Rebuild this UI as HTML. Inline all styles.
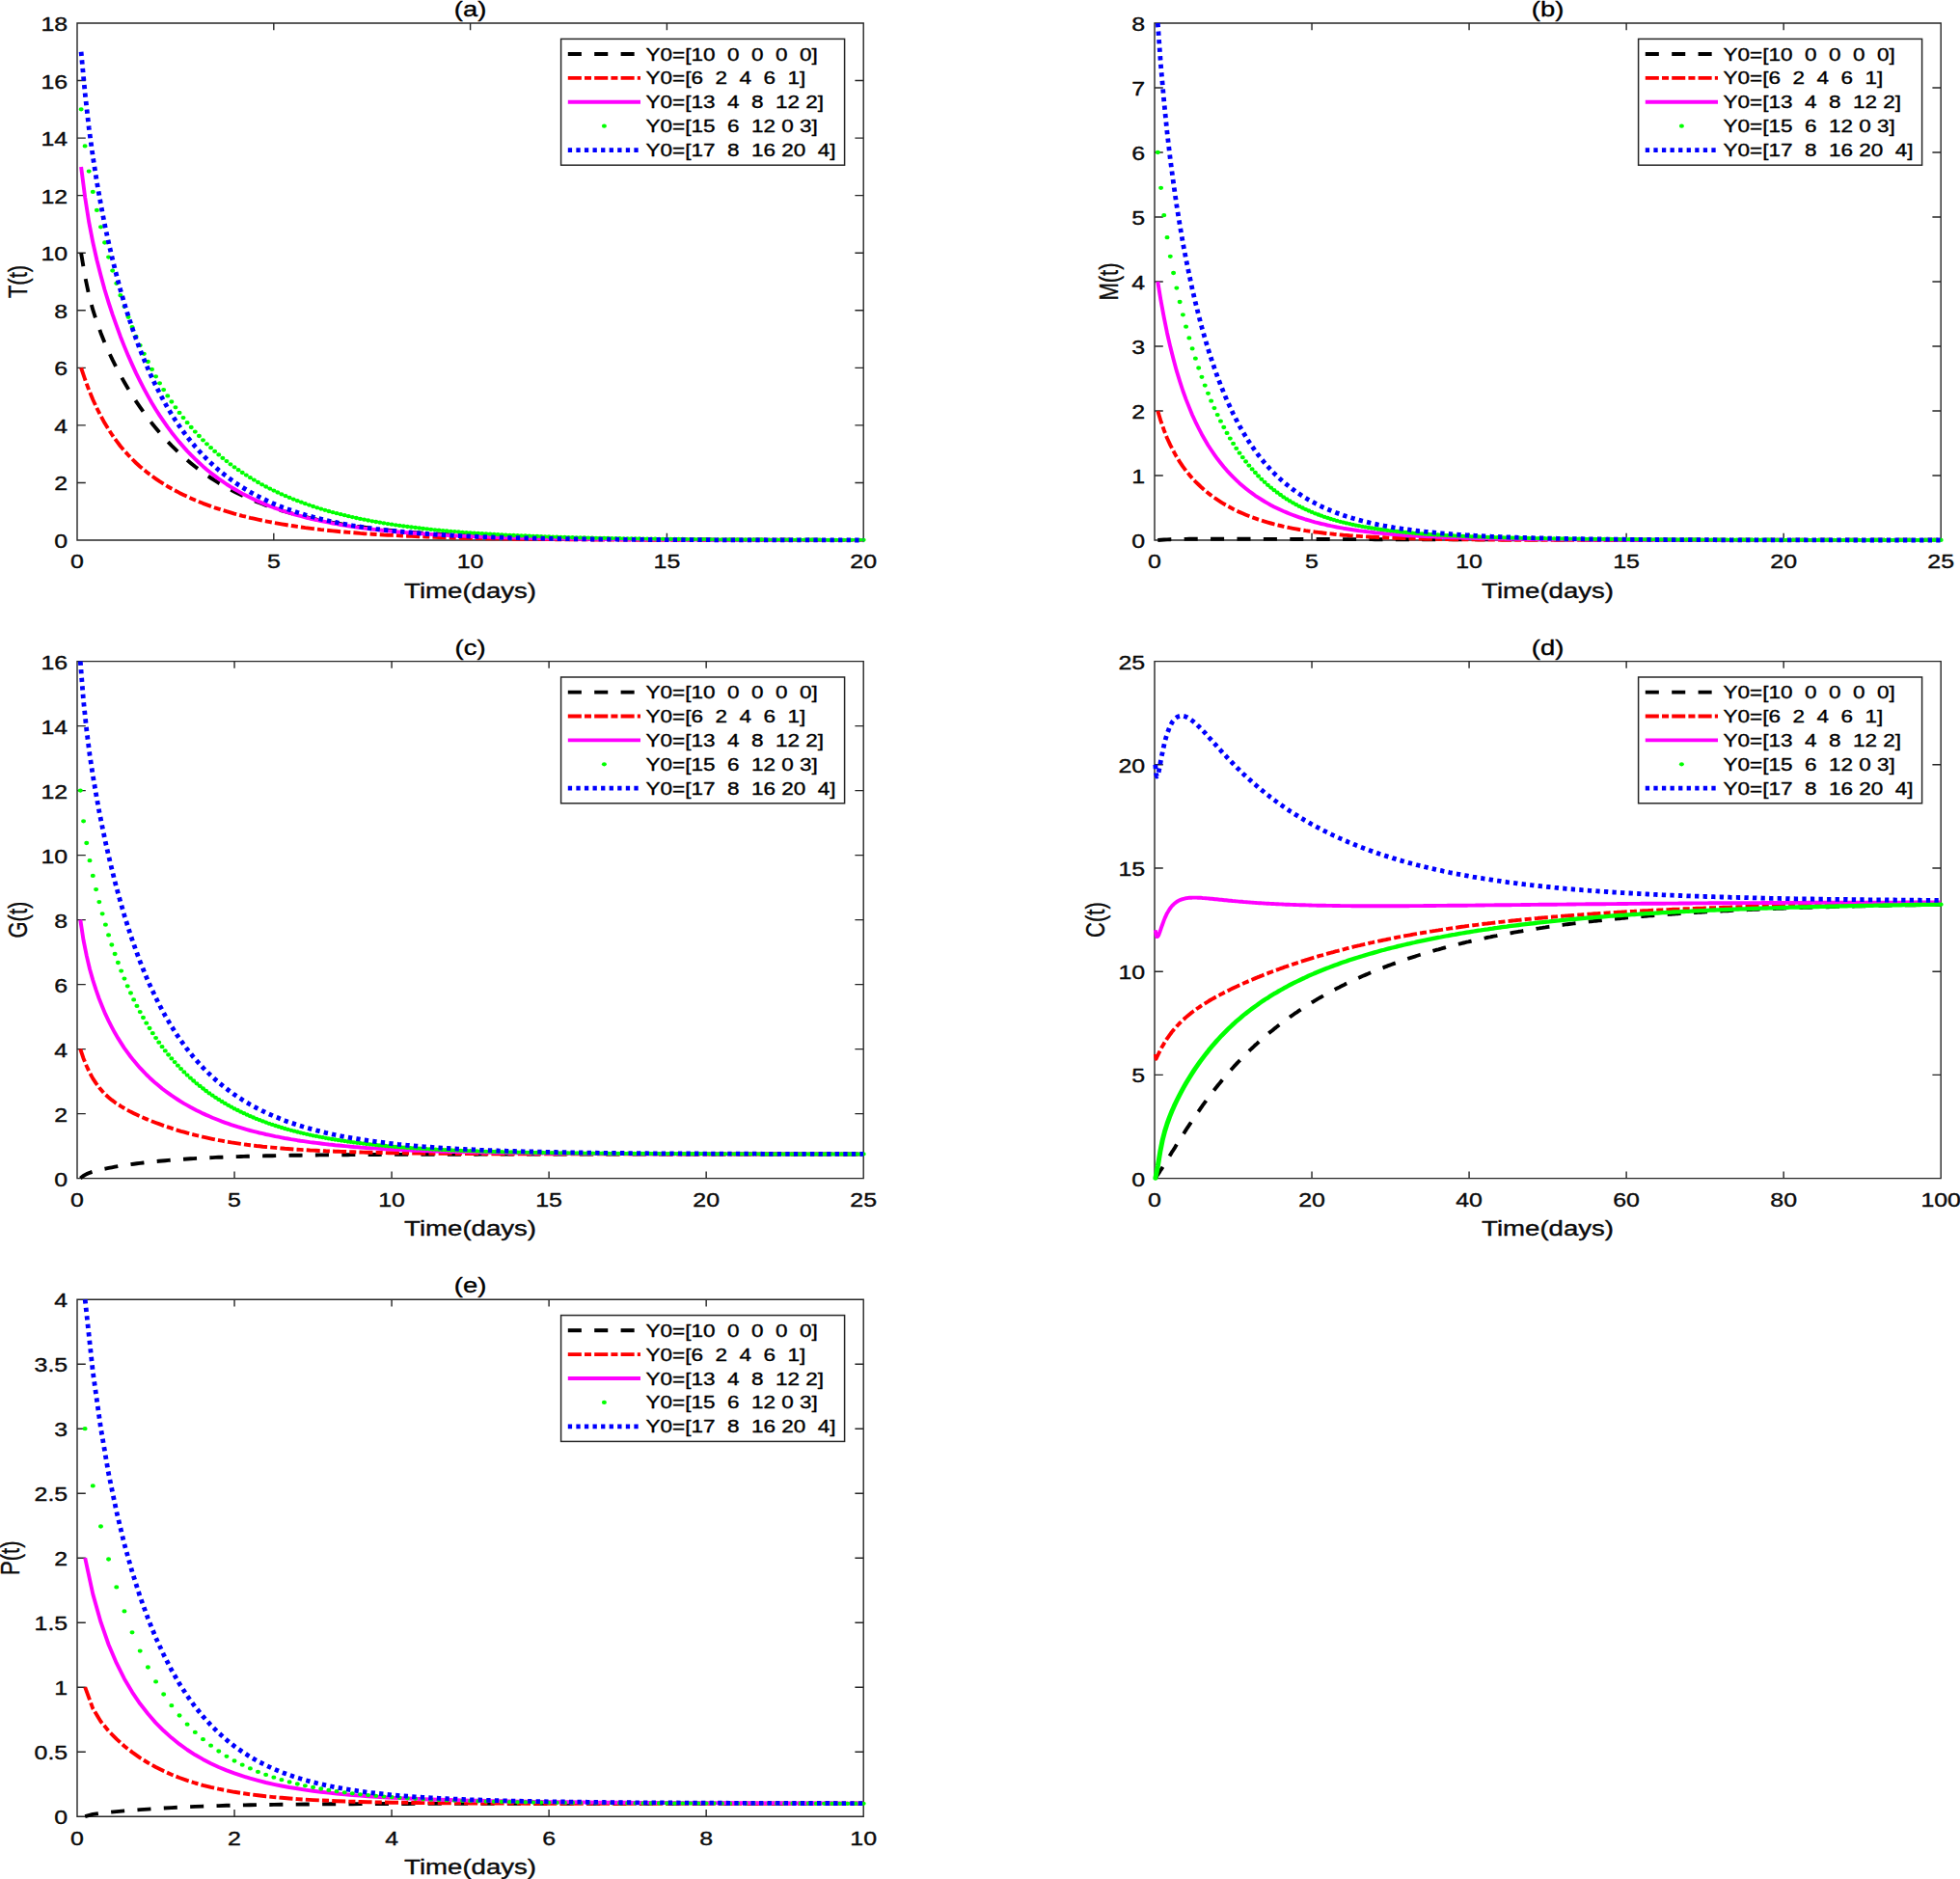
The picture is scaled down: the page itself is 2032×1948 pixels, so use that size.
<!DOCTYPE html>
<html lang="en"><head><meta charset="utf-8"><title>Figure</title>
<style>html,body{margin:0;padding:0;background:#fff}svg{display:block}text{font-family:"Liberation Sans",Arial,Helvetica,sans-serif;white-space:pre;stroke:#000;stroke-width:.35px;stroke-linejoin:round}.tk{font-size:20px;fill:#0d0d0d}.lb{font-size:22px;fill:#0d0d0d}.tt{font-size:22px;fill:#000}.lg{font-size:18px;fill:#000}.ax{stroke:#262626;stroke-width:1.4;fill:none}.cv{fill:none;stroke-linejoin:round}</style></head><body>
<svg width="2032" height="1948" viewBox="0 0 2032 1948">
<rect width="2032" height="1948" fill="#fff"/>
<g id="plot-a">
<clipPath id="clip-a"><rect x="77.00" y="21.00" width="821.20" height="542.00"/></clipPath>
<path class="ax" d="M80.00 24.00H895.20V560.00H80.00ZM80.00 560.00v-7.20M80.00 24.00v7.20M283.80 560.00v-7.20M283.80 24.00v7.20M487.60 560.00v-7.20M487.60 24.00v7.20M691.40 560.00v-7.20M691.40 24.00v7.20M895.20 560.00v-7.20M895.20 24.00v7.20M80.00 560.00h8.80M895.20 560.00h-8.80M80.00 500.44h8.80M895.20 500.44h-8.80M80.00 440.89h8.80M895.20 440.89h-8.80M80.00 381.33h8.80M895.20 381.33h-8.80M80.00 321.78h8.80M895.20 321.78h-8.80M80.00 262.22h8.80M895.20 262.22h-8.80M80.00 202.67h8.80M895.20 202.67h-8.80M80.00 143.11h8.80M895.20 143.11h-8.80M80.00 83.56h8.80M895.20 83.56h-8.80M80.00 24.00h8.80M895.20 24.00h-8.80"/>
<g clip-path="url(#clip-a)">
<polyline class="cv" points="84.1,262.2 88.2,287.0 92.2,305.9 96.3,321.2 100.4,334.0 104.5,345.2 108.5,355.3 112.6,364.6 116.7,373.2 120.8,381.3 124.8,389.0 128.9,396.2 133.0,403.2 137.1,409.8 141.1,416.1 145.2,422.1 149.3,427.9 153.4,433.4 157.4,438.7 161.5,443.7 165.6,448.6 169.7,453.2 173.7,457.6 177.8,461.9 181.9,465.9 186.0,469.8 190.1,473.5 194.1,477.1 198.2,480.5 202.3,483.8 206.4,486.9 210.4,489.9 214.5,492.8 218.6,495.5 222.7,498.1 226.7,500.7 230.8,503.1 234.9,505.4 239.0,507.6 243.0,509.7 247.1,511.8 251.2,513.7 255.3,515.6 259.3,517.4 263.4,519.1 267.5,520.7 271.6,522.3 275.6,523.8 279.7,525.3 283.8,526.7 287.9,528.0 292.0,529.3 296.0,530.5 300.1,531.7 304.2,532.8 308.3,533.9 312.3,534.9 316.4,535.9 320.5,536.9 324.6,537.8 328.6,538.7 332.7,539.5 336.8,540.3 340.9,541.1 344.9,541.8 349.0,542.5 353.1,543.2 357.2,543.9 361.2,544.5 365.3,545.1 369.4,545.7 373.5,546.3 377.5,546.8 381.6,547.3 385.7,547.8 389.8,548.3 393.9,548.7 397.9,549.2 402.0,549.6 406.1,550.0 410.2,550.4 414.2,550.8 418.3,551.1 422.4,551.4 426.5,551.8 430.5,552.1 434.6,552.4 438.7,552.7 442.8,553.0 446.8,553.2 450.9,553.5 455.0,553.7 459.1,554.0 463.1,554.2 467.2,554.4 471.3,554.6 475.4,554.8 479.4,555.0 483.5,555.2 487.6,555.4 491.7,555.6 495.8,555.8 499.8,555.9 503.9,556.1 508.0,556.2 512.1,556.4 516.1,556.5 520.2,556.6 524.3,556.8 528.4,556.9 532.4,557.0 536.5,557.1 540.6,557.2 544.7,557.3 548.7,557.4 552.8,557.5 556.9,557.6 561.0,557.7 565.0,557.8 569.1,557.9 573.2,557.9 577.3,558.0 581.3,558.1 585.4,558.2 589.5,558.2 593.6,558.3 597.7,558.4 601.7,558.4 605.8,558.5 609.9,558.5 614.0,558.6 618.0,558.6 622.1,558.7 626.2,558.7 630.3,558.8 634.3,558.8 638.4,558.9 642.5,558.9 646.6,559.0 650.6,559.0 654.7,559.0 658.8,559.1 662.9,559.1 666.9,559.1 671.0,559.2 675.1,559.2 679.2,559.2 683.2,559.3 687.3,559.3 691.4,559.3 695.5,559.3 699.6,559.4 703.6,559.4 707.7,559.4 711.8,559.4 715.9,559.4 719.9,559.5 724.0,559.5 728.1,559.5 732.2,559.5 736.2,559.5 740.3,559.6 744.4,559.6 748.5,559.6 752.5,559.6 756.6,559.6 760.7,559.6 764.8,559.6 768.8,559.7 772.9,559.7 777.0,559.7 781.1,559.7 785.1,559.7 789.2,559.7 793.3,559.7 797.4,559.7 801.5,559.7 805.5,559.8 809.6,559.8 813.7,559.8 817.8,559.8 821.8,559.8 825.9,559.8 830.0,559.8 834.1,559.8 838.1,559.8 842.2,559.8 846.3,559.8 850.4,559.8 854.4,559.8 858.5,559.8 862.6,559.9 866.7,559.9 870.7,559.9 874.8,559.9 878.9,559.9 883.0,559.9 887.0,559.9 891.1,559.9 895.2,559.9" stroke="#000000" stroke-width="3.9" stroke-dasharray="14.05 13.35"/>
<polyline class="cv" points="84.1,381.3 88.2,393.5 92.2,404.4 96.3,414.2 100.4,423.1 104.5,431.2 108.5,438.6 112.6,445.3 116.7,451.5 120.8,457.2 124.8,462.5 128.9,467.3 133.0,471.8 137.1,476.0 141.1,480.0 145.2,483.7 149.3,487.1 153.4,490.4 157.4,493.4 161.5,496.3 165.6,499.1 169.7,501.7 173.7,504.2 177.8,506.5 181.9,508.7 186.0,510.9 190.1,512.9 194.1,514.8 198.2,516.7 202.3,518.5 206.4,520.2 210.4,521.8 214.5,523.3 218.6,524.8 222.7,526.3 226.7,527.6 230.8,528.9 234.9,530.2 239.0,531.4 243.0,532.6 247.1,533.7 251.2,534.8 255.3,535.8 259.3,536.8 263.4,537.7 267.5,538.6 271.6,539.5 275.6,540.3 279.7,541.1 283.8,541.9 287.9,542.6 292.0,543.3 296.0,544.0 300.1,544.7 304.2,545.3 308.3,545.9 312.3,546.5 316.4,547.1 320.5,547.6 324.6,548.1 328.6,548.6 332.7,549.1 336.8,549.5 340.9,550.0 344.9,550.4 349.0,550.8 353.1,551.2 357.2,551.5 361.2,551.9 365.3,552.2 369.4,552.5 373.5,552.9 377.5,553.2 381.6,553.4 385.7,553.7 389.8,554.0 393.9,554.2 397.9,554.5 402.0,554.7 406.1,554.9 410.2,555.1 414.2,555.3 418.3,555.5 422.4,555.7 426.5,555.9 430.5,556.1 434.6,556.3 438.7,556.4 442.8,556.6 446.8,556.7 450.9,556.8 455.0,557.0 459.1,557.1 463.1,557.2 467.2,557.3 471.3,557.5 475.4,557.6 479.4,557.7 483.5,557.8 487.6,557.9 491.7,558.0 495.8,558.0 499.8,558.1 503.9,558.2 508.0,558.3 512.1,558.4 516.1,558.4 520.2,558.5 524.3,558.6 528.4,558.6 532.4,558.7 536.5,558.7 540.6,558.8 544.7,558.8 548.7,558.9 552.8,558.9 556.9,559.0 561.0,559.0 565.0,559.1 569.1,559.1 573.2,559.2 577.3,559.2 581.3,559.2 585.4,559.3 589.5,559.3 593.6,559.3 597.7,559.3 601.7,559.4 605.8,559.4 609.9,559.4 614.0,559.5 618.0,559.5 622.1,559.5 626.2,559.5 630.3,559.5 634.3,559.6 638.4,559.6 642.5,559.6 646.6,559.6 650.6,559.6 654.7,559.6 658.8,559.7 662.9,559.7 666.9,559.7 671.0,559.7 675.1,559.7 679.2,559.7 683.2,559.7 687.3,559.8 691.4,559.8 695.5,559.8 699.6,559.8 703.6,559.8 707.7,559.8 711.8,559.8 715.9,559.8 719.9,559.8 724.0,559.8 728.1,559.8 732.2,559.8 736.2,559.9 740.3,559.9 744.4,559.9 748.5,559.9 752.5,559.9 756.6,559.9 760.7,559.9 764.8,559.9 768.8,559.9 772.9,559.9 777.0,559.9 781.1,559.9 785.1,559.9 789.2,559.9 793.3,559.9 797.4,559.9 801.5,559.9 805.5,559.9 809.6,559.9 813.7,559.9 817.8,559.9 821.8,559.9 825.9,559.9 830.0,559.9 834.1,560.0 838.1,560.0 842.2,560.0 846.3,560.0 850.4,560.0 854.4,560.0 858.5,560.0 862.6,560.0 866.7,560.0 870.7,560.0 874.8,560.0 878.9,560.0 883.0,560.0 887.0,560.0 891.1,560.0 895.2,560.0" stroke="#ff0000" stroke-width="3.9" stroke-dasharray="14.05 3.16 7.03 3.16"/>
<polyline class="cv" points="84.1,172.9 88.2,204.8 92.2,230.2 96.3,251.3 100.4,269.5 104.5,285.6 108.5,300.2 112.6,313.6 116.7,326.1 120.8,337.7 124.8,348.7 128.9,359.1 133.0,368.9 137.1,378.1 141.1,386.9 145.2,395.2 149.3,403.1 153.4,410.6 157.4,417.7 161.5,424.5 165.6,430.9 169.7,436.9 173.7,442.7 177.8,448.2 181.9,453.4 186.0,458.4 190.1,463.1 194.1,467.6 198.2,471.8 202.3,475.9 206.4,479.7 210.4,483.4 214.5,486.9 218.6,490.2 222.7,493.4 226.7,496.4 230.8,499.2 234.9,502.0 239.0,504.6 243.0,507.0 247.1,509.4 251.2,511.7 255.3,513.8 259.3,515.8 263.4,517.8 267.5,519.6 271.6,521.4 275.6,523.1 279.7,524.7 283.8,526.3 287.9,527.7 292.0,529.1 296.0,530.5 300.1,531.7 304.2,533.0 308.3,534.1 312.3,535.2 316.4,536.3 320.5,537.3 324.6,538.3 328.6,539.2 332.7,540.1 336.8,540.9 340.9,541.7 344.9,542.5 349.0,543.2 353.1,544.0 357.2,544.6 361.2,545.3 365.3,545.9 369.4,546.5 373.5,547.0 377.5,547.6 381.6,548.1 385.7,548.6 389.8,549.1 393.9,549.5 397.9,550.0 402.0,550.4 406.1,550.8 410.2,551.2 414.2,551.5 418.3,551.9 422.4,552.2 426.5,552.5 430.5,552.8 434.6,553.1 438.7,553.4 442.8,553.7 446.8,553.9 450.9,554.2 455.0,554.4 459.1,554.6 463.1,554.9 467.2,555.1 471.3,555.3 475.4,555.5 479.4,555.6 483.5,555.8 487.6,556.0 491.7,556.2 495.8,556.3 499.8,556.5 503.9,556.6 508.0,556.7 512.1,556.9 516.1,557.0 520.2,557.1 524.3,557.2 528.4,557.3 532.4,557.4 536.5,557.5 540.6,557.6 544.7,557.7 548.7,557.8 552.8,557.9 556.9,558.0 561.0,558.1 565.0,558.2 569.1,558.2 573.2,558.3 577.3,558.4 581.3,558.4 585.4,558.5 589.5,558.6 593.6,558.6 597.7,558.7 601.7,558.7 605.8,558.8 609.9,558.8 614.0,558.9 618.0,558.9 622.1,559.0 626.2,559.0 630.3,559.0 634.3,559.1 638.4,559.1 642.5,559.1 646.6,559.2 650.6,559.2 654.7,559.2 658.8,559.3 662.9,559.3 666.9,559.3 671.0,559.4 675.1,559.4 679.2,559.4 683.2,559.4 687.3,559.5 691.4,559.5 695.5,559.5 699.6,559.5 703.6,559.5 707.7,559.6 711.8,559.6 715.9,559.6 719.9,559.6 724.0,559.6 728.1,559.6 732.2,559.6 736.2,559.7 740.3,559.7 744.4,559.7 748.5,559.7 752.5,559.7 756.6,559.7 760.7,559.7 764.8,559.7 768.8,559.8 772.9,559.8 777.0,559.8 781.1,559.8 785.1,559.8 789.2,559.8 793.3,559.8 797.4,559.8 801.5,559.8 805.5,559.8 809.6,559.8 813.7,559.8 817.8,559.8 821.8,559.9 825.9,559.9 830.0,559.9 834.1,559.9 838.1,559.9 842.2,559.9 846.3,559.9 850.4,559.9 854.4,559.9 858.5,559.9 862.6,559.9 866.7,559.9 870.7,559.9 874.8,559.9 878.9,559.9 883.0,559.9 887.0,559.9 891.1,559.9 895.2,559.9" stroke="#ff00ff" stroke-width="3.9"/>
</g>
<path class="cv" transform="scale(1.17 1)" d="M71.9 113.3h.01M75.3 151.4h.01M78.8 177.6h.01M82.3 198.9h.01M85.8 217.9h.01M89.3 235.3h.01M92.8 251.5h.01M96.2 266.6h.01M99.7 280.6h.01M103.2 293.8h.01M106.7 306.2h.01M110.2 317.8h.01M113.7 328.8h.01M117.1 339.1h.01M120.6 348.9h.01M124.1 358.1h.01M127.6 366.8h.01M131.1 375.0h.01M134.6 382.9h.01M138.1 390.3h.01M141.5 397.3h.01M145.0 404.1h.01M148.5 410.4h.01M152.0 416.5h.01M155.5 422.3h.01M159.0 427.9h.01M162.4 433.1h.01M165.9 438.2h.01M169.4 443.0h.01M172.9 447.6h.01M176.4 452.0h.01M179.9 456.3h.01M183.3 460.3h.01M186.8 464.2h.01M190.3 467.9h.01M193.8 471.4h.01M197.3 474.9h.01M200.8 478.1h.01M204.2 481.3h.01M207.7 484.3h.01M211.2 487.2h.01M214.7 490.0h.01M218.2 492.6h.01M221.7 495.2h.01M225.1 497.6h.01M228.6 500.0h.01M232.1 502.3h.01M235.6 504.5h.01M239.1 506.6h.01M242.6 508.6h.01M246.0 510.5h.01M249.5 512.4h.01M253.0 514.2h.01M256.5 515.9h.01M260.0 517.6h.01M263.5 519.2h.01M267.0 520.7h.01M270.4 522.2h.01M273.9 523.6h.01M277.4 525.0h.01M280.9 526.3h.01M284.4 527.6h.01M287.9 528.8h.01M291.3 530.0h.01M294.8 531.1h.01M298.3 532.2h.01M301.8 533.2h.01M305.3 534.2h.01M308.8 535.2h.01M312.2 536.1h.01M315.7 537.0h.01M319.2 537.9h.01M322.7 538.7h.01M326.2 539.5h.01M329.7 540.3h.01M333.1 541.0h.01M336.6 541.7h.01M340.1 542.4h.01M343.6 543.1h.01M347.1 543.7h.01M350.6 544.3h.01M354.0 544.9h.01M357.5 545.5h.01M361.0 546.0h.01M364.5 546.5h.01M368.0 547.0h.01M371.5 547.5h.01M374.9 548.0h.01M378.4 548.4h.01M381.9 548.9h.01M385.4 549.3h.01M388.9 549.7h.01M392.4 550.1h.01M395.8 550.4h.01M399.3 550.8h.01M402.8 551.1h.01M406.3 551.5h.01M409.8 551.8h.01M413.3 552.1h.01M416.8 552.4h.01M420.2 552.7h.01M423.7 553.0h.01M427.2 553.2h.01M430.7 553.5h.01M434.2 553.7h.01M437.7 554.0h.01M441.1 554.2h.01M444.6 554.4h.01M448.1 554.6h.01M451.6 554.8h.01M455.1 555.0h.01M458.6 555.2h.01M462.0 555.4h.01M465.5 555.5h.01M469.0 555.7h.01M472.5 555.9h.01M476.0 556.0h.01M479.5 556.2h.01M482.9 556.3h.01M486.4 556.5h.01M489.9 556.6h.01M493.4 556.7h.01M496.9 556.8h.01M500.4 557.0h.01M503.8 557.1h.01M507.3 557.2h.01M510.8 557.3h.01M514.3 557.4h.01M517.8 557.5h.01M521.3 557.6h.01M524.7 557.7h.01M528.2 557.8h.01M531.7 557.8h.01M535.2 557.9h.01M538.7 558.0h.01M542.2 558.1h.01M545.7 558.1h.01M549.1 558.2h.01M552.6 558.3h.01M556.1 558.3h.01M559.6 558.4h.01M563.1 558.5h.01M566.6 558.5h.01M570.0 558.6h.01M573.5 558.6h.01M577.0 558.7h.01M580.5 558.7h.01M584.0 558.8h.01M587.5 558.8h.01M590.9 558.9h.01M594.4 558.9h.01M597.9 559.0h.01M601.4 559.0h.01M604.9 559.0h.01M608.4 559.1h.01M611.8 559.1h.01M615.3 559.1h.01M618.8 559.2h.01M622.3 559.2h.01M625.8 559.2h.01M629.3 559.3h.01M632.7 559.3h.01M636.2 559.3h.01M639.7 559.3h.01M643.2 559.4h.01M646.7 559.4h.01M650.2 559.4h.01M653.6 559.4h.01M657.1 559.5h.01M660.6 559.5h.01M664.1 559.5h.01M667.6 559.5h.01M671.1 559.5h.01M674.6 559.5h.01M678.0 559.6h.01M681.5 559.6h.01M685.0 559.6h.01M688.5 559.6h.01M692.0 559.6h.01M695.5 559.6h.01M698.9 559.7h.01M702.4 559.7h.01M705.9 559.7h.01M709.4 559.7h.01M712.9 559.7h.01M716.4 559.7h.01M719.8 559.7h.01M723.3 559.7h.01M726.8 559.7h.01M730.3 559.8h.01M733.8 559.8h.01M737.3 559.8h.01M740.7 559.8h.01M744.2 559.8h.01M747.7 559.8h.01M751.2 559.8h.01M754.7 559.8h.01M758.2 559.8h.01M761.6 559.8h.01M765.1 559.8h.01" stroke="#00ff00" stroke-width="4.3" stroke-linecap="round"/>
<g clip-path="url(#clip-a)">
<polyline class="cv" points="84.1,53.8 88.2,97.1 92.2,132.6 96.3,162.5 100.4,188.6 104.5,211.7 108.5,232.6 112.6,251.6 116.7,269.1 120.8,285.4 124.8,300.4 128.9,314.5 133.0,327.7 137.1,340.0 141.1,351.5 145.2,362.4 149.3,372.6 153.4,382.2 157.4,391.3 161.5,399.8 165.6,407.8 169.7,415.4 173.7,422.6 177.8,429.3 181.9,435.7 186.0,441.8 190.1,447.5 194.1,452.9 198.2,458.0 202.3,462.9 206.4,467.5 210.4,471.9 214.5,476.0 218.6,480.0 222.7,483.7 226.7,487.3 230.8,490.6 234.9,493.8 239.0,496.9 243.0,499.8 247.1,502.6 251.2,505.2 255.3,507.7 259.3,510.1 263.4,512.3 267.5,514.5 271.6,516.6 275.6,518.5 279.7,520.4 283.8,522.2 287.9,523.9 292.0,525.5 296.0,527.0 300.1,528.5 304.2,529.9 308.3,531.3 312.3,532.5 316.4,533.8 320.5,534.9 324.6,536.0 328.6,537.1 332.7,538.1 336.8,539.1 340.9,540.0 344.9,540.9 349.0,541.7 353.1,542.6 357.2,543.3 361.2,544.1 365.3,544.8 369.4,545.4 373.5,546.1 377.5,546.7 381.6,547.3 385.7,547.8 389.8,548.4 393.9,548.9 397.9,549.4 402.0,549.8 406.1,550.3 410.2,550.7 414.2,551.1 418.3,551.5 422.4,551.9 426.5,552.2 430.5,552.6 434.6,552.9 438.7,553.2 442.8,553.5 446.8,553.8 450.9,554.1 455.0,554.3 459.1,554.6 463.1,554.8 467.2,555.0 471.3,555.3 475.4,555.5 479.4,555.7 483.5,555.9 487.6,556.0 491.7,556.2 495.8,556.4 499.8,556.5 503.9,556.7 508.0,556.8 512.1,557.0 516.1,557.1 520.2,557.2 524.3,557.3 528.4,557.5 532.4,557.6 536.5,557.7 540.6,557.8 544.7,557.9 548.7,558.0 552.8,558.1 556.9,558.1 561.0,558.2 565.0,558.3 569.1,558.4 573.2,558.4 577.3,558.5 581.3,558.6 585.4,558.6 589.5,558.7 593.6,558.8 597.7,558.8 601.7,558.9 605.8,558.9 609.9,559.0 614.0,559.0 618.0,559.1 622.1,559.1 626.2,559.1 630.3,559.2 634.3,559.2 638.4,559.2 642.5,559.3 646.6,559.3 650.6,559.3 654.7,559.4 658.8,559.4 662.9,559.4 666.9,559.4 671.0,559.5 675.1,559.5 679.2,559.5 683.2,559.5 687.3,559.6 691.4,559.6 695.5,559.6 699.6,559.6 703.6,559.6 707.7,559.6 711.8,559.7 715.9,559.7 719.9,559.7 724.0,559.7 728.1,559.7 732.2,559.7 736.2,559.7 740.3,559.8 744.4,559.8 748.5,559.8 752.5,559.8 756.6,559.8 760.7,559.8 764.8,559.8 768.8,559.8 772.9,559.8 777.0,559.8 781.1,559.8 785.1,559.8 789.2,559.9 793.3,559.9 797.4,559.9 801.5,559.9 805.5,559.9 809.6,559.9 813.7,559.9 817.8,559.9 821.8,559.9 825.9,559.9 830.0,559.9 834.1,559.9 838.1,559.9 842.2,559.9 846.3,559.9 850.4,559.9 854.4,559.9 858.5,559.9 862.6,559.9 866.7,559.9 870.7,559.9 874.8,559.9 878.9,559.9 883.0,559.9 887.0,560.0 891.1,560.0 895.2,560.0" stroke="#0000ff" stroke-width="4.8" stroke-dasharray="4.3 4.27"/>
</g>
<text class="tk" text-anchor="middle" x="80.00" y="588.90" textLength="13.85" lengthAdjust="spacingAndGlyphs">0</text>
<text class="tk" text-anchor="middle" x="283.80" y="588.90" textLength="13.85" lengthAdjust="spacingAndGlyphs">5</text>
<text class="tk" text-anchor="middle" x="487.60" y="588.90" textLength="27.70" lengthAdjust="spacingAndGlyphs">10</text>
<text class="tk" text-anchor="middle" x="691.40" y="588.90" textLength="27.70" lengthAdjust="spacingAndGlyphs">15</text>
<text class="tk" text-anchor="middle" x="895.20" y="588.90" textLength="27.70" lengthAdjust="spacingAndGlyphs">20</text>
<text class="tk" text-anchor="end" x="70.20" y="568.00" textLength="13.85" lengthAdjust="spacingAndGlyphs">0</text>
<text class="tk" text-anchor="end" x="70.20" y="508.44" textLength="13.85" lengthAdjust="spacingAndGlyphs">2</text>
<text class="tk" text-anchor="end" x="70.20" y="448.89" textLength="13.85" lengthAdjust="spacingAndGlyphs">4</text>
<text class="tk" text-anchor="end" x="70.20" y="389.33" textLength="13.85" lengthAdjust="spacingAndGlyphs">6</text>
<text class="tk" text-anchor="end" x="70.20" y="329.78" textLength="13.85" lengthAdjust="spacingAndGlyphs">8</text>
<text class="tk" text-anchor="end" x="70.20" y="270.22" textLength="27.70" lengthAdjust="spacingAndGlyphs">10</text>
<text class="tk" text-anchor="end" x="70.20" y="210.67" textLength="27.70" lengthAdjust="spacingAndGlyphs">12</text>
<text class="tk" text-anchor="end" x="70.20" y="151.11" textLength="27.70" lengthAdjust="spacingAndGlyphs">14</text>
<text class="tk" text-anchor="end" x="70.20" y="91.56" textLength="27.70" lengthAdjust="spacingAndGlyphs">16</text>
<text class="tk" text-anchor="end" x="70.20" y="32.00" textLength="27.70" lengthAdjust="spacingAndGlyphs">18</text>
<text class="lb" text-anchor="middle" x="487.60" y="619.50" textLength="136.96" lengthAdjust="spacingAndGlyphs">Time(days)</text>
<text class="tt" text-anchor="middle" x="487.60" y="16.90" textLength="33.48" lengthAdjust="spacingAndGlyphs">(a)</text>
<text class="lb" style="font-size:27.39px" text-anchor="middle" transform="translate(27.80 292.00) rotate(-90)" textLength="34.20" lengthAdjust="spacingAndGlyphs">T(t)</text>
<rect x="581.60" y="40.40" width="294.00" height="130.80" fill="#fff" stroke="#262626" stroke-width="1.5"/>
<path d="M588.80 56.00H664.00" stroke="#000000" stroke-width="3.9" stroke-dasharray="14.05 13.35"/>
<text class="lg" text-anchor="start" x="669.60" y="62.50" textLength="178.25" lengthAdjust="spacingAndGlyphs">Y0=[10  0  0  0  0]</text>
<path d="M588.80 80.90H664.00" stroke="#ff0000" stroke-width="3.9" stroke-dasharray="14.05 3.16 7.03 3.16"/>
<text class="lg" text-anchor="start" x="669.60" y="87.40" textLength="165.74" lengthAdjust="spacingAndGlyphs">Y0=[6  2  4  6  1]</text>
<path d="M588.80 105.80H664.00" stroke="#ff00ff" stroke-width="3.9"/>
<text class="lg" text-anchor="start" x="669.60" y="112.30" textLength="184.52" lengthAdjust="spacingAndGlyphs">Y0=[13  4  8  12 2]</text>
<ellipse cx="626.40" cy="130.70" rx="2.5" ry="2.1" fill="#00ff00"/>
<text class="lg" text-anchor="start" x="669.60" y="137.20" textLength="178.26" lengthAdjust="spacingAndGlyphs">Y0=[15  6  12 0 3]</text>
<path d="M588.80 155.60H664.00" stroke="#0000ff" stroke-width="4.8" stroke-dasharray="4.3 4.27"/>
<text class="lg" text-anchor="start" x="669.60" y="162.10" textLength="197.03" lengthAdjust="spacingAndGlyphs">Y0=[17  8  16 20  4]</text>
</g>
<g id="plot-b">
<clipPath id="clip-b"><rect x="1194.00" y="21.00" width="821.20" height="542.00"/></clipPath>
<path class="ax" d="M1197.00 24.00H2012.20V560.00H1197.00ZM1197.00 560.00v-7.20M1197.00 24.00v7.20M1360.04 560.00v-7.20M1360.04 24.00v7.20M1523.08 560.00v-7.20M1523.08 24.00v7.20M1686.12 560.00v-7.20M1686.12 24.00v7.20M1849.16 560.00v-7.20M1849.16 24.00v7.20M2012.20 560.00v-7.20M2012.20 24.00v7.20M1197.00 560.00h8.80M2012.20 560.00h-8.80M1197.00 493.00h8.80M2012.20 493.00h-8.80M1197.00 426.00h8.80M2012.20 426.00h-8.80M1197.00 359.00h8.80M2012.20 359.00h-8.80M1197.00 292.00h8.80M2012.20 292.00h-8.80M1197.00 225.00h8.80M2012.20 225.00h-8.80M1197.00 158.00h8.80M2012.20 158.00h-8.80M1197.00 91.00h8.80M2012.20 91.00h-8.80M1197.00 24.00h8.80M2012.20 24.00h-8.80"/>
<g clip-path="url(#clip-b)">
<polyline class="cv" points="1200.3,560.0 1203.5,559.7 1206.8,559.5 1210.0,559.4 1213.3,559.2 1216.6,559.1 1219.8,559.0 1223.1,558.9 1226.3,558.9 1229.6,558.9 1232.9,558.8 1236.1,558.8 1239.4,558.8 1242.7,558.8 1245.9,558.8 1249.2,558.8 1252.4,558.8 1255.7,558.8 1259.0,558.8 1262.2,558.8 1265.5,558.8 1268.7,558.8 1272.0,558.8 1275.3,558.8 1278.5,558.8 1281.8,558.8 1285.0,558.8 1288.3,558.8 1291.6,558.8 1294.8,558.8 1298.1,558.8 1301.3,558.9 1304.6,558.9 1307.9,558.9 1311.1,558.9 1314.4,558.9 1317.6,558.9 1320.9,558.9 1324.2,558.9 1327.4,558.9 1330.7,558.9 1334.0,558.9 1337.2,558.9 1340.5,559.0 1343.7,559.0 1347.0,559.0 1350.3,559.0 1353.5,559.0 1356.8,559.0 1360.0,559.0 1363.3,559.0 1366.6,559.0 1369.8,559.0 1373.1,559.0 1376.3,559.0 1379.6,559.1 1382.9,559.1 1386.1,559.1 1389.4,559.1 1392.6,559.1 1395.9,559.1 1399.2,559.1 1402.4,559.1 1405.7,559.1 1409.0,559.1 1412.2,559.1 1415.5,559.1 1418.7,559.1 1422.0,559.1 1425.3,559.2 1428.5,559.2 1431.8,559.2 1435.0,559.2 1438.3,559.2 1441.6,559.2 1444.8,559.2 1448.1,559.2 1451.3,559.2 1454.6,559.2 1457.9,559.2 1461.1,559.2 1464.4,559.2 1467.6,559.2 1470.9,559.2 1474.2,559.2 1477.4,559.3 1480.7,559.3 1484.0,559.3 1487.2,559.3 1490.5,559.3 1493.7,559.3 1497.0,559.3 1500.3,559.3 1503.5,559.3 1506.8,559.3 1510.0,559.3 1513.3,559.3 1516.6,559.3 1519.8,559.3 1523.1,559.3 1526.3,559.3 1529.6,559.3 1532.9,559.3 1536.1,559.4 1539.4,559.4 1542.6,559.4 1545.9,559.4 1549.2,559.4 1552.4,559.4 1555.7,559.4 1558.9,559.4 1562.2,559.4 1565.5,559.4 1568.7,559.4 1572.0,559.4 1575.3,559.4 1578.5,559.4 1581.8,559.4 1585.0,559.4 1588.3,559.4 1591.6,559.4 1594.8,559.4 1598.1,559.4 1601.3,559.4 1604.6,559.5 1607.9,559.5 1611.1,559.5 1614.4,559.5 1617.6,559.5 1620.9,559.5 1624.2,559.5 1627.4,559.5 1630.7,559.5 1633.9,559.5 1637.2,559.5 1640.5,559.5 1643.7,559.5 1647.0,559.5 1650.3,559.5 1653.5,559.5 1656.8,559.5 1660.0,559.5 1663.3,559.5 1666.6,559.5 1669.8,559.5 1673.1,559.5 1676.3,559.5 1679.6,559.5 1682.9,559.5 1686.1,559.6 1689.4,559.6 1692.6,559.6 1695.9,559.6 1699.2,559.6 1702.4,559.6 1705.7,559.6 1708.9,559.6 1712.2,559.6 1715.5,559.6 1718.7,559.6 1722.0,559.6 1725.2,559.6 1728.5,559.6 1731.8,559.6 1735.0,559.6 1738.3,559.6 1741.6,559.6 1744.8,559.6 1748.1,559.6 1751.3,559.6 1754.6,559.6 1757.9,559.6 1761.1,559.6 1764.4,559.6 1767.6,559.6 1770.9,559.6 1774.2,559.6 1777.4,559.6 1780.7,559.6 1783.9,559.6 1787.2,559.7 1790.5,559.7 1793.7,559.7 1797.0,559.7 1800.2,559.7 1803.5,559.7 1806.8,559.7 1810.0,559.7 1813.3,559.7 1816.6,559.7 1819.8,559.7 1823.1,559.7 1826.3,559.7 1829.6,559.7 1832.9,559.7 1836.1,559.7 1839.4,559.7 1842.6,559.7 1845.9,559.7 1849.2,559.7 1852.4,559.7 1855.7,559.7 1858.9,559.7 1862.2,559.7 1865.5,559.7 1868.7,559.7 1872.0,559.7 1875.2,559.7 1878.5,559.7 1881.8,559.7 1885.0,559.7 1888.3,559.7 1891.6,559.7 1894.8,559.7 1898.1,559.7 1901.3,559.7 1904.6,559.7 1907.9,559.7 1911.1,559.7 1914.4,559.7 1917.6,559.7 1920.9,559.7 1924.2,559.8 1927.4,559.8 1930.7,559.8 1933.9,559.8 1937.2,559.8 1940.5,559.8 1943.7,559.8 1947.0,559.8 1950.2,559.8 1953.5,559.8 1956.8,559.8 1960.0,559.8 1963.3,559.8 1966.5,559.8 1969.8,559.8 1973.1,559.8 1976.3,559.8 1979.6,559.8 1982.9,559.8 1986.1,559.8 1989.4,559.8 1992.6,559.8 1995.9,559.8 1999.2,559.8 2002.4,559.8 2005.7,559.8 2008.9,559.8 2012.2,559.8" stroke="#000000" stroke-width="3.9" stroke-dasharray="14.05 13.35"/>
<polyline class="cv" points="1200.3,426.0 1203.5,436.7 1206.8,446.0 1210.0,454.2 1213.3,461.4 1216.6,467.8 1219.8,473.6 1223.1,478.9 1226.3,483.7 1229.6,488.1 1232.9,492.1 1236.1,495.8 1239.4,499.3 1242.7,502.5 1245.9,505.6 1249.2,508.4 1252.4,511.1 1255.7,513.6 1259.0,516.0 1262.2,518.2 1265.5,520.3 1268.7,522.3 1272.0,524.2 1275.3,526.0 1278.5,527.7 1281.8,529.3 1285.0,530.9 1288.3,532.3 1291.6,533.7 1294.8,535.0 1298.1,536.3 1301.3,537.4 1304.6,538.6 1307.9,539.6 1311.1,540.6 1314.4,541.6 1317.6,542.5 1320.9,543.4 1324.2,544.2 1327.4,545.0 1330.7,545.8 1334.0,546.5 1337.2,547.2 1340.5,547.8 1343.7,548.4 1347.0,549.0 1350.3,549.5 1353.5,550.1 1356.8,550.6 1360.0,551.0 1363.3,551.5 1366.6,551.9 1369.8,552.3 1373.1,552.7 1376.3,553.1 1379.6,553.4 1382.9,553.8 1386.1,554.1 1389.4,554.4 1392.6,554.7 1395.9,554.9 1399.2,555.2 1402.4,555.4 1405.7,555.7 1409.0,555.9 1412.2,556.1 1415.5,556.3 1418.7,556.5 1422.0,556.7 1425.3,556.8 1428.5,557.0 1431.8,557.2 1435.0,557.3 1438.3,557.4 1441.6,557.6 1444.8,557.7 1448.1,557.8 1451.3,557.9 1454.6,558.0 1457.9,558.1 1461.1,558.2 1464.4,558.3 1467.6,558.4 1470.9,558.5 1474.2,558.6 1477.4,558.7 1480.7,558.7 1484.0,558.8 1487.2,558.9 1490.5,558.9 1493.7,559.0 1497.0,559.0 1500.3,559.1 1503.5,559.1 1506.8,559.2 1510.0,559.2 1513.3,559.3 1516.6,559.3 1519.8,559.3 1523.1,559.4 1526.3,559.4 1529.6,559.4 1532.9,559.5 1536.1,559.5 1539.4,559.5 1542.6,559.6 1545.9,559.6 1549.2,559.6 1552.4,559.6 1555.7,559.7 1558.9,559.7 1562.2,559.7 1565.5,559.7 1568.7,559.7 1572.0,559.7 1575.3,559.8 1578.5,559.8 1581.8,559.8 1585.0,559.8 1588.3,559.8 1591.6,559.8 1594.8,559.8 1598.1,559.8 1601.3,559.9 1604.6,559.9 1607.9,559.9 1611.1,559.9 1614.4,559.9 1617.6,559.9 1620.9,559.9 1624.2,559.9 1627.4,559.9 1630.7,559.9 1633.9,559.9 1637.2,559.9 1640.5,559.9 1643.7,559.9 1647.0,559.9 1650.3,560.0 1653.5,560.0 1656.8,560.0 1660.0,560.0 1663.3,560.0 1666.6,560.0 1669.8,560.0 1673.1,560.0 1676.3,560.0 1679.6,560.0 1682.9,560.0 1686.1,560.0 1689.4,560.0 1692.6,560.0 1695.9,560.0 1699.2,560.0 1702.4,560.0 1705.7,560.0 1708.9,560.0 1712.2,560.0 1715.5,560.0 1718.7,560.0 1722.0,560.0 1725.2,560.0 1728.5,560.0 1731.8,560.0 1735.0,560.0 1738.3,560.0 1741.6,560.0 1744.8,560.0 1748.1,560.0 1751.3,560.0 1754.6,560.0 1757.9,560.0 1761.1,560.0 1764.4,560.0 1767.6,560.0 1770.9,560.0 1774.2,560.0 1777.4,560.0 1780.7,560.0 1783.9,560.0 1787.2,560.0 1790.5,560.0 1793.7,560.0 1797.0,560.0 1800.2,560.0 1803.5,560.0 1806.8,560.0 1810.0,560.0 1813.3,560.0 1816.6,560.0 1819.8,560.0 1823.1,560.0 1826.3,560.0 1829.6,560.0 1832.9,560.0 1836.1,560.0 1839.4,560.0 1842.6,560.0 1845.9,560.0 1849.2,560.0 1852.4,560.0 1855.7,560.0 1858.9,560.0 1862.2,560.0 1865.5,560.0 1868.7,560.0 1872.0,560.0 1875.2,560.0 1878.5,560.0 1881.8,560.0 1885.0,560.0 1888.3,560.0 1891.6,560.0 1894.8,560.0 1898.1,560.0 1901.3,560.0 1904.6,560.0 1907.9,560.0 1911.1,560.0 1914.4,560.0 1917.6,560.0 1920.9,560.0 1924.2,560.0 1927.4,560.0 1930.7,560.0 1933.9,560.0 1937.2,560.0 1940.5,560.0 1943.7,560.0 1947.0,560.0 1950.2,560.0 1953.5,560.0 1956.8,560.0 1960.0,560.0 1963.3,560.0 1966.5,560.0 1969.8,560.0 1973.1,560.0 1976.3,560.0 1979.6,560.0 1982.9,560.0 1986.1,560.0 1989.4,560.0 1992.6,560.0 1995.9,560.0 1999.2,560.0 2002.4,560.0 2005.7,560.0 2008.9,560.0 2012.2,560.0" stroke="#ff0000" stroke-width="3.9" stroke-dasharray="14.05 3.16 7.03 3.16"/>
<polyline class="cv" points="1200.3,292.0 1203.5,311.7 1206.8,329.4 1210.0,345.2 1213.3,359.6 1216.6,372.5 1219.8,384.4 1223.1,395.1 1226.3,405.0 1229.6,414.1 1232.9,422.4 1236.1,430.2 1239.4,437.3 1242.7,444.0 1245.9,450.2 1249.2,456.0 1252.4,461.5 1255.7,466.5 1259.0,471.3 1262.2,475.8 1265.5,480.0 1268.7,484.0 1272.0,487.8 1275.3,491.3 1278.5,494.7 1281.8,497.9 1285.0,500.9 1288.3,503.7 1291.6,506.4 1294.8,509.0 1298.1,511.4 1301.3,513.8 1304.6,515.9 1307.9,518.0 1311.1,520.0 1314.4,521.9 1317.6,523.7 1320.9,525.4 1324.2,527.0 1327.4,528.5 1330.7,530.0 1334.0,531.4 1337.2,532.7 1340.5,534.0 1343.7,535.2 1347.0,536.3 1350.3,537.4 1353.5,538.5 1356.8,539.4 1360.0,540.4 1363.3,541.3 1366.6,542.1 1369.8,543.0 1373.1,543.7 1376.3,544.5 1379.6,545.2 1382.9,545.8 1386.1,546.5 1389.4,547.1 1392.6,547.7 1395.9,548.2 1399.2,548.7 1402.4,549.2 1405.7,549.7 1409.0,550.2 1412.2,550.6 1415.5,551.0 1418.7,551.4 1422.0,551.8 1425.3,552.2 1428.5,552.5 1431.8,552.8 1435.0,553.1 1438.3,553.4 1441.6,553.7 1444.8,554.0 1448.1,554.3 1451.3,554.5 1454.6,554.7 1457.9,555.0 1461.1,555.2 1464.4,555.4 1467.6,555.6 1470.9,555.8 1474.2,555.9 1477.4,556.1 1480.7,556.3 1484.0,556.4 1487.2,556.6 1490.5,556.7 1493.7,556.9 1497.0,557.0 1500.3,557.1 1503.5,557.2 1506.8,557.3 1510.0,557.4 1513.3,557.5 1516.6,557.6 1519.8,557.7 1523.1,557.8 1526.3,557.9 1529.6,558.0 1532.9,558.1 1536.1,558.2 1539.4,558.2 1542.6,558.3 1545.9,558.4 1549.2,558.4 1552.4,558.5 1555.7,558.5 1558.9,558.6 1562.2,558.7 1565.5,558.7 1568.7,558.8 1572.0,558.8 1575.3,558.8 1578.5,558.9 1581.8,558.9 1585.0,559.0 1588.3,559.0 1591.6,559.0 1594.8,559.1 1598.1,559.1 1601.3,559.1 1604.6,559.2 1607.9,559.2 1611.1,559.2 1614.4,559.3 1617.6,559.3 1620.9,559.3 1624.2,559.3 1627.4,559.4 1630.7,559.4 1633.9,559.4 1637.2,559.4 1640.5,559.4 1643.7,559.5 1647.0,559.5 1650.3,559.5 1653.5,559.5 1656.8,559.5 1660.0,559.5 1663.3,559.6 1666.6,559.6 1669.8,559.6 1673.1,559.6 1676.3,559.6 1679.6,559.6 1682.9,559.6 1686.1,559.7 1689.4,559.7 1692.6,559.7 1695.9,559.7 1699.2,559.7 1702.4,559.7 1705.7,559.7 1708.9,559.7 1712.2,559.7 1715.5,559.7 1718.7,559.7 1722.0,559.8 1725.2,559.8 1728.5,559.8 1731.8,559.8 1735.0,559.8 1738.3,559.8 1741.6,559.8 1744.8,559.8 1748.1,559.8 1751.3,559.8 1754.6,559.8 1757.9,559.8 1761.1,559.8 1764.4,559.8 1767.6,559.8 1770.9,559.8 1774.2,559.9 1777.4,559.9 1780.7,559.9 1783.9,559.9 1787.2,559.9 1790.5,559.9 1793.7,559.9 1797.0,559.9 1800.2,559.9 1803.5,559.9 1806.8,559.9 1810.0,559.9 1813.3,559.9 1816.6,559.9 1819.8,559.9 1823.1,559.9 1826.3,559.9 1829.6,559.9 1832.9,559.9 1836.1,559.9 1839.4,559.9 1842.6,559.9 1845.9,559.9 1849.2,559.9 1852.4,559.9 1855.7,559.9 1858.9,559.9 1862.2,559.9 1865.5,559.9 1868.7,559.9 1872.0,559.9 1875.2,559.9 1878.5,559.9 1881.8,559.9 1885.0,559.9 1888.3,559.9 1891.6,559.9 1894.8,559.9 1898.1,559.9 1901.3,560.0 1904.6,560.0 1907.9,560.0 1911.1,560.0 1914.4,560.0 1917.6,560.0 1920.9,560.0 1924.2,560.0 1927.4,560.0 1930.7,560.0 1933.9,560.0 1937.2,560.0 1940.5,560.0 1943.7,560.0 1947.0,560.0 1950.2,560.0 1953.5,560.0 1956.8,560.0 1960.0,560.0 1963.3,560.0 1966.5,560.0 1969.8,560.0 1973.1,560.0 1976.3,560.0 1979.6,560.0 1982.9,560.0 1986.1,560.0 1989.4,560.0 1992.6,560.0 1995.9,560.0 1999.2,560.0 2002.4,560.0 2005.7,560.0 2008.9,560.0 2012.2,560.0" stroke="#ff00ff" stroke-width="3.9"/>
</g>
<path class="cv" transform="scale(1.17 1)" d="M1025.9 158.0h.01M1028.7 194.8h.01M1031.4 223.2h.01M1034.2 246.2h.01M1037.0 265.8h.01M1039.8 283.0h.01M1042.6 298.6h.01M1045.4 313.0h.01M1048.2 326.3h.01M1050.9 338.7h.01M1053.7 350.4h.01M1056.5 361.4h.01M1059.3 371.7h.01M1062.1 381.5h.01M1064.9 390.8h.01M1067.7 399.6h.01M1070.5 407.8h.01M1073.2 415.7h.01M1076.0 423.1h.01M1078.8 430.1h.01M1081.6 436.7h.01M1084.4 443.0h.01M1087.2 448.9h.01M1090.0 454.6h.01M1092.8 459.9h.01M1095.5 464.9h.01M1098.3 469.7h.01M1101.1 474.2h.01M1103.9 478.5h.01M1106.7 482.6h.01M1109.5 486.4h.01M1112.3 490.0h.01M1115.0 493.5h.01M1117.8 496.8h.01M1120.6 499.8h.01M1123.4 502.8h.01M1126.2 505.6h.01M1129.0 508.2h.01M1131.8 510.7h.01M1134.6 513.0h.01M1137.3 515.3h.01M1140.1 517.4h.01M1142.9 519.4h.01M1145.7 521.3h.01M1148.5 523.2h.01M1151.3 524.9h.01M1154.1 526.5h.01M1156.9 528.1h.01M1159.6 529.5h.01M1162.4 530.9h.01M1165.2 532.3h.01M1168.0 533.5h.01M1170.8 534.7h.01M1173.6 535.9h.01M1176.4 536.9h.01M1179.1 538.0h.01M1181.9 538.9h.01M1184.7 539.9h.01M1187.5 540.8h.01M1190.3 541.6h.01M1193.1 542.4h.01M1195.9 543.1h.01M1198.7 543.9h.01M1201.4 544.6h.01M1204.2 545.2h.01M1207.0 545.8h.01M1209.8 546.4h.01M1212.6 547.0h.01M1215.4 547.5h.01M1218.2 548.0h.01M1221.0 548.5h.01M1223.7 549.0h.01M1226.5 549.4h.01M1229.3 549.9h.01M1232.1 550.3h.01M1234.9 550.6h.01M1237.7 551.0h.01M1240.5 551.4h.01M1243.3 551.7h.01M1246.0 552.0h.01M1248.8 552.3h.01M1251.6 552.6h.01M1254.4 552.9h.01M1257.2 553.2h.01M1260.0 553.4h.01M1262.8 553.7h.01M1265.5 553.9h.01M1268.3 554.1h.01M1271.1 554.3h.01M1273.9 554.5h.01M1276.7 554.7h.01M1279.5 554.9h.01M1282.3 555.1h.01M1285.1 555.3h.01M1287.8 555.4h.01M1290.6 555.6h.01M1293.4 555.7h.01M1296.2 555.9h.01M1299.0 556.0h.01M1301.8 556.2h.01M1304.6 556.3h.01M1307.4 556.4h.01M1310.1 556.5h.01M1312.9 556.7h.01M1315.7 556.8h.01M1318.5 556.9h.01M1321.3 557.0h.01M1324.1 557.1h.01M1326.9 557.2h.01M1329.6 557.3h.01M1332.4 557.3h.01M1335.2 557.4h.01M1338.0 557.5h.01M1340.8 557.6h.01M1343.6 557.7h.01M1346.4 557.7h.01M1349.2 557.8h.01M1351.9 557.9h.01M1354.7 557.9h.01M1357.5 558.0h.01M1360.3 558.1h.01M1363.1 558.1h.01M1365.9 558.2h.01M1368.7 558.2h.01M1371.5 558.3h.01M1374.2 558.3h.01M1377.0 558.4h.01M1379.8 558.4h.01M1382.6 558.5h.01M1385.4 558.5h.01M1388.2 558.6h.01M1391.0 558.6h.01M1393.7 558.6h.01M1396.5 558.7h.01M1399.3 558.7h.01M1402.1 558.8h.01M1404.9 558.8h.01M1407.7 558.8h.01M1410.5 558.9h.01M1413.3 558.9h.01M1416.0 558.9h.01M1418.8 558.9h.01M1421.6 559.0h.01M1424.4 559.0h.01M1427.2 559.0h.01M1430.0 559.1h.01M1432.8 559.1h.01M1435.6 559.1h.01M1438.3 559.1h.01M1441.1 559.2h.01M1443.9 559.2h.01M1446.7 559.2h.01M1449.5 559.2h.01M1452.3 559.2h.01M1455.1 559.3h.01M1457.9 559.3h.01M1460.6 559.3h.01M1463.4 559.3h.01M1466.2 559.3h.01M1469.0 559.4h.01M1471.8 559.4h.01M1474.6 559.4h.01M1477.4 559.4h.01M1480.1 559.4h.01M1482.9 559.4h.01M1485.7 559.5h.01M1488.5 559.5h.01M1491.3 559.5h.01M1494.1 559.5h.01M1496.9 559.5h.01M1499.7 559.5h.01M1502.4 559.5h.01M1505.2 559.5h.01M1508.0 559.6h.01M1510.8 559.6h.01M1513.6 559.6h.01M1516.4 559.6h.01M1519.2 559.6h.01M1522.0 559.6h.01M1524.7 559.6h.01M1527.5 559.6h.01M1530.3 559.6h.01M1533.1 559.6h.01M1535.9 559.7h.01M1538.7 559.7h.01M1541.5 559.7h.01M1544.2 559.7h.01M1547.0 559.7h.01M1549.8 559.7h.01M1552.6 559.7h.01M1555.4 559.7h.01M1558.2 559.7h.01M1561.0 559.7h.01M1563.8 559.7h.01M1566.5 559.7h.01M1569.3 559.7h.01M1572.1 559.8h.01M1574.9 559.8h.01M1577.7 559.8h.01M1580.5 559.8h.01M1583.3 559.8h.01M1586.1 559.8h.01M1588.8 559.8h.01M1591.6 559.8h.01M1594.4 559.8h.01M1597.2 559.8h.01M1600.0 559.8h.01M1602.8 559.8h.01M1605.6 559.8h.01M1608.3 559.8h.01M1611.1 559.8h.01M1613.9 559.8h.01M1616.7 559.8h.01M1619.5 559.8h.01M1622.3 559.8h.01M1625.1 559.8h.01M1627.9 559.9h.01M1630.6 559.9h.01M1633.4 559.9h.01M1636.2 559.9h.01M1639.0 559.9h.01M1641.8 559.9h.01M1644.6 559.9h.01M1647.4 559.9h.01M1650.2 559.9h.01M1652.9 559.9h.01M1655.7 559.9h.01M1658.5 559.9h.01M1661.3 559.9h.01M1664.1 559.9h.01M1666.9 559.9h.01M1669.7 559.9h.01M1672.4 559.9h.01M1675.2 559.9h.01M1678.0 559.9h.01M1680.8 559.9h.01M1683.6 559.9h.01M1686.4 559.9h.01M1689.2 559.9h.01M1692.0 559.9h.01M1694.7 559.9h.01M1697.5 559.9h.01M1700.3 559.9h.01M1703.1 559.9h.01M1705.9 559.9h.01M1708.7 559.9h.01M1711.5 559.9h.01M1714.3 559.9h.01M1717.0 559.9h.01M1719.8 559.9h.01" stroke="#00ff00" stroke-width="4.3" stroke-linecap="round"/>
<g clip-path="url(#clip-b)">
<polyline class="cv" points="1200.3,24.0 1203.5,68.2 1206.8,105.4 1210.0,137.3 1213.3,165.3 1216.6,190.1 1219.8,212.5 1223.1,232.8 1226.3,251.5 1229.6,268.8 1232.9,284.8 1236.1,299.8 1239.4,313.8 1242.7,326.9 1245.9,339.2 1249.2,350.7 1252.4,361.6 1255.7,371.8 1259.0,381.5 1262.2,390.6 1265.5,399.2 1268.7,407.3 1272.0,414.9 1275.3,422.1 1278.5,429.0 1281.8,435.4 1285.0,441.5 1288.3,447.3 1291.6,452.7 1294.8,457.9 1298.1,462.8 1301.3,467.4 1304.6,471.8 1307.9,476.0 1311.1,479.9 1314.4,483.7 1317.6,487.2 1320.9,490.6 1324.2,493.8 1327.4,496.8 1330.7,499.7 1334.0,502.4 1337.2,505.0 1340.5,507.5 1343.7,509.9 1347.0,512.1 1350.3,514.2 1353.5,516.2 1356.8,518.2 1360.0,520.0 1363.3,521.7 1366.6,523.4 1369.8,525.0 1373.1,526.5 1376.3,527.9 1379.6,529.3 1382.9,530.6 1386.1,531.9 1389.4,533.0 1392.6,534.2 1395.9,535.3 1399.2,536.3 1402.4,537.3 1405.7,538.2 1409.0,539.1 1412.2,540.0 1415.5,540.8 1418.7,541.6 1422.0,542.4 1425.3,543.1 1428.5,543.8 1431.8,544.4 1435.0,545.1 1438.3,545.7 1441.6,546.2 1444.8,546.8 1448.1,547.3 1451.3,547.8 1454.6,548.3 1457.9,548.8 1461.1,549.2 1464.4,549.7 1467.6,550.1 1470.9,550.5 1474.2,550.8 1477.4,551.2 1480.7,551.5 1484.0,551.9 1487.2,552.2 1490.5,552.5 1493.7,552.8 1497.0,553.1 1500.3,553.3 1503.5,553.6 1506.8,553.9 1510.0,554.1 1513.3,554.3 1516.6,554.5 1519.8,554.8 1523.1,555.0 1526.3,555.1 1529.6,555.3 1532.9,555.5 1536.1,555.7 1539.4,555.9 1542.6,556.0 1545.9,556.2 1549.2,556.3 1552.4,556.5 1555.7,556.6 1558.9,556.7 1562.2,556.8 1565.5,557.0 1568.7,557.1 1572.0,557.2 1575.3,557.3 1578.5,557.4 1581.8,557.5 1585.0,557.6 1588.3,557.7 1591.6,557.8 1594.8,557.9 1598.1,557.9 1601.3,558.0 1604.6,558.1 1607.9,558.2 1611.1,558.2 1614.4,558.3 1617.6,558.4 1620.9,558.4 1624.2,558.5 1627.4,558.5 1630.7,558.6 1633.9,558.6 1637.2,558.7 1640.5,558.7 1643.7,558.8 1647.0,558.8 1650.3,558.9 1653.5,558.9 1656.8,559.0 1660.0,559.0 1663.3,559.0 1666.6,559.1 1669.8,559.1 1673.1,559.1 1676.3,559.2 1679.6,559.2 1682.9,559.2 1686.1,559.3 1689.4,559.3 1692.6,559.3 1695.9,559.3 1699.2,559.4 1702.4,559.4 1705.7,559.4 1708.9,559.4 1712.2,559.5 1715.5,559.5 1718.7,559.5 1722.0,559.5 1725.2,559.5 1728.5,559.6 1731.8,559.6 1735.0,559.6 1738.3,559.6 1741.6,559.6 1744.8,559.6 1748.1,559.6 1751.3,559.7 1754.6,559.7 1757.9,559.7 1761.1,559.7 1764.4,559.7 1767.6,559.7 1770.9,559.7 1774.2,559.7 1777.4,559.7 1780.7,559.8 1783.9,559.8 1787.2,559.8 1790.5,559.8 1793.7,559.8 1797.0,559.8 1800.2,559.8 1803.5,559.8 1806.8,559.8 1810.0,559.8 1813.3,559.8 1816.6,559.8 1819.8,559.8 1823.1,559.9 1826.3,559.9 1829.6,559.9 1832.9,559.9 1836.1,559.9 1839.4,559.9 1842.6,559.9 1845.9,559.9 1849.2,559.9 1852.4,559.9 1855.7,559.9 1858.9,559.9 1862.2,559.9 1865.5,559.9 1868.7,559.9 1872.0,559.9 1875.2,559.9 1878.5,559.9 1881.8,559.9 1885.0,559.9 1888.3,559.9 1891.6,559.9 1894.8,559.9 1898.1,559.9 1901.3,559.9 1904.6,559.9 1907.9,559.9 1911.1,559.9 1914.4,559.9 1917.6,560.0 1920.9,560.0 1924.2,560.0 1927.4,560.0 1930.7,560.0 1933.9,560.0 1937.2,560.0 1940.5,560.0 1943.7,560.0 1947.0,560.0 1950.2,560.0 1953.5,560.0 1956.8,560.0 1960.0,560.0 1963.3,560.0 1966.5,560.0 1969.8,560.0 1973.1,560.0 1976.3,560.0 1979.6,560.0 1982.9,560.0 1986.1,560.0 1989.4,560.0 1992.6,560.0 1995.9,560.0 1999.2,560.0 2002.4,560.0 2005.7,560.0 2008.9,560.0 2012.2,560.0" stroke="#0000ff" stroke-width="4.8" stroke-dasharray="4.3 4.27"/>
</g>
<text class="tk" text-anchor="middle" x="1197.00" y="588.90" textLength="13.85" lengthAdjust="spacingAndGlyphs">0</text>
<text class="tk" text-anchor="middle" x="1360.04" y="588.90" textLength="13.85" lengthAdjust="spacingAndGlyphs">5</text>
<text class="tk" text-anchor="middle" x="1523.08" y="588.90" textLength="27.70" lengthAdjust="spacingAndGlyphs">10</text>
<text class="tk" text-anchor="middle" x="1686.12" y="588.90" textLength="27.70" lengthAdjust="spacingAndGlyphs">15</text>
<text class="tk" text-anchor="middle" x="1849.16" y="588.90" textLength="27.70" lengthAdjust="spacingAndGlyphs">20</text>
<text class="tk" text-anchor="middle" x="2012.20" y="588.90" textLength="27.70" lengthAdjust="spacingAndGlyphs">25</text>
<text class="tk" text-anchor="end" x="1187.20" y="568.00" textLength="13.85" lengthAdjust="spacingAndGlyphs">0</text>
<text class="tk" text-anchor="end" x="1187.20" y="501.00" textLength="13.85" lengthAdjust="spacingAndGlyphs">1</text>
<text class="tk" text-anchor="end" x="1187.20" y="434.00" textLength="13.85" lengthAdjust="spacingAndGlyphs">2</text>
<text class="tk" text-anchor="end" x="1187.20" y="367.00" textLength="13.85" lengthAdjust="spacingAndGlyphs">3</text>
<text class="tk" text-anchor="end" x="1187.20" y="300.00" textLength="13.85" lengthAdjust="spacingAndGlyphs">4</text>
<text class="tk" text-anchor="end" x="1187.20" y="233.00" textLength="13.85" lengthAdjust="spacingAndGlyphs">5</text>
<text class="tk" text-anchor="end" x="1187.20" y="166.00" textLength="13.85" lengthAdjust="spacingAndGlyphs">6</text>
<text class="tk" text-anchor="end" x="1187.20" y="99.00" textLength="13.85" lengthAdjust="spacingAndGlyphs">7</text>
<text class="tk" text-anchor="end" x="1187.20" y="32.00" textLength="13.85" lengthAdjust="spacingAndGlyphs">8</text>
<text class="lb" text-anchor="middle" x="1604.60" y="619.50" textLength="136.96" lengthAdjust="spacingAndGlyphs">Time(days)</text>
<text class="tt" text-anchor="middle" x="1604.60" y="16.90" textLength="33.48" lengthAdjust="spacingAndGlyphs">(b)</text>
<text class="lb" style="font-size:27.39px" text-anchor="middle" transform="translate(1159.20 292.00) rotate(-90)" textLength="39.09" lengthAdjust="spacingAndGlyphs">M(t)</text>
<rect x="1698.60" y="40.40" width="294.00" height="130.80" fill="#fff" stroke="#262626" stroke-width="1.5"/>
<path d="M1705.80 56.00H1781.00" stroke="#000000" stroke-width="3.9" stroke-dasharray="14.05 13.35"/>
<text class="lg" text-anchor="start" x="1786.60" y="62.50" textLength="178.25" lengthAdjust="spacingAndGlyphs">Y0=[10  0  0  0  0]</text>
<path d="M1705.80 80.90H1781.00" stroke="#ff0000" stroke-width="3.9" stroke-dasharray="14.05 3.16 7.03 3.16"/>
<text class="lg" text-anchor="start" x="1786.60" y="87.40" textLength="165.74" lengthAdjust="spacingAndGlyphs">Y0=[6  2  4  6  1]</text>
<path d="M1705.80 105.80H1781.00" stroke="#ff00ff" stroke-width="3.9"/>
<text class="lg" text-anchor="start" x="1786.60" y="112.30" textLength="184.52" lengthAdjust="spacingAndGlyphs">Y0=[13  4  8  12 2]</text>
<ellipse cx="1743.40" cy="130.70" rx="2.5" ry="2.1" fill="#00ff00"/>
<text class="lg" text-anchor="start" x="1786.60" y="137.20" textLength="178.26" lengthAdjust="spacingAndGlyphs">Y0=[15  6  12 0 3]</text>
<path d="M1705.80 155.60H1781.00" stroke="#0000ff" stroke-width="4.8" stroke-dasharray="4.3 4.27"/>
<text class="lg" text-anchor="start" x="1786.60" y="162.10" textLength="197.03" lengthAdjust="spacingAndGlyphs">Y0=[17  8  16 20  4]</text>
</g>
<g id="plot-c">
<clipPath id="clip-c"><rect x="77.00" y="682.60" width="821.20" height="542.00"/></clipPath>
<path class="ax" d="M80.00 685.60H895.20V1221.60H80.00ZM80.00 1221.60v-7.20M80.00 685.60v7.20M243.04 1221.60v-7.20M243.04 685.60v7.20M406.08 1221.60v-7.20M406.08 685.60v7.20M569.12 1221.60v-7.20M569.12 685.60v7.20M732.16 1221.60v-7.20M732.16 685.60v7.20M895.20 1221.60v-7.20M895.20 685.60v7.20M80.00 1221.60h8.80M895.20 1221.60h-8.80M80.00 1154.60h8.80M895.20 1154.60h-8.80M80.00 1087.60h8.80M895.20 1087.60h-8.80M80.00 1020.60h8.80M895.20 1020.60h-8.80M80.00 953.60h8.80M895.20 953.60h-8.80M80.00 886.60h8.80M895.20 886.60h-8.80M80.00 819.60h8.80M895.20 819.60h-8.80M80.00 752.60h8.80M895.20 752.60h-8.80M80.00 685.60h8.80M895.20 685.60h-8.80"/>
<g clip-path="url(#clip-c)">
<polyline class="cv" points="83.3,1221.6 86.5,1219.0 89.8,1217.1 93.0,1215.8 96.3,1214.7 99.6,1213.8 102.8,1213.0 106.1,1212.2 109.3,1211.6 112.6,1210.9 115.9,1210.3 119.1,1209.7 122.4,1209.1 125.7,1208.6 128.9,1208.1 132.2,1207.6 135.4,1207.2 138.7,1206.7 142.0,1206.3 145.2,1205.9 148.5,1205.5 151.7,1205.1 155.0,1204.7 158.3,1204.4 161.5,1204.1 164.8,1203.8 168.0,1203.5 171.3,1203.2 174.6,1202.9 177.8,1202.6 181.1,1202.4 184.3,1202.1 187.6,1201.9 190.9,1201.7 194.1,1201.5 197.4,1201.3 200.6,1201.1 203.9,1200.9 207.2,1200.7 210.4,1200.5 213.7,1200.4 217.0,1200.2 220.2,1200.1 223.5,1199.9 226.7,1199.8 230.0,1199.7 233.3,1199.5 236.5,1199.4 239.8,1199.3 243.0,1199.2 246.3,1199.1 249.6,1199.0 252.8,1198.9 256.1,1198.8 259.3,1198.7 262.6,1198.6 265.9,1198.5 269.1,1198.4 272.4,1198.4 275.6,1198.3 278.9,1198.2 282.2,1198.2 285.4,1198.1 288.7,1198.0 292.0,1198.0 295.2,1197.9 298.5,1197.9 301.7,1197.8 305.0,1197.8 308.3,1197.7 311.5,1197.7 314.8,1197.6 318.0,1197.6 321.3,1197.5 324.6,1197.5 327.8,1197.5 331.1,1197.4 334.3,1197.4 337.6,1197.4 340.9,1197.3 344.1,1197.3 347.4,1197.3 350.6,1197.2 353.9,1197.2 357.2,1197.2 360.4,1197.2 363.7,1197.1 367.0,1197.1 370.2,1197.1 373.5,1197.1 376.7,1197.0 380.0,1197.0 383.3,1197.0 386.5,1197.0 389.8,1197.0 393.0,1197.0 396.3,1196.9 399.6,1196.9 402.8,1196.9 406.1,1196.9 409.3,1196.9 412.6,1196.9 415.9,1196.9 419.1,1196.8 422.4,1196.8 425.6,1196.8 428.9,1196.8 432.2,1196.8 435.4,1196.8 438.7,1196.8 441.9,1196.8 445.2,1196.8 448.5,1196.7 451.7,1196.7 455.0,1196.7 458.3,1196.7 461.5,1196.7 464.8,1196.7 468.0,1196.7 471.3,1196.7 474.6,1196.7 477.8,1196.7 481.1,1196.7 484.3,1196.7 487.6,1196.7 490.9,1196.7 494.1,1196.7 497.4,1196.6 500.6,1196.6 503.9,1196.6 507.2,1196.6 510.4,1196.6 513.7,1196.6 516.9,1196.6 520.2,1196.6 523.5,1196.6 526.7,1196.6 530.0,1196.6 533.3,1196.6 536.5,1196.6 539.8,1196.6 543.0,1196.6 546.3,1196.6 549.6,1196.6 552.8,1196.6 556.1,1196.6 559.3,1196.6 562.6,1196.6 565.9,1196.6 569.1,1196.6 572.4,1196.6 575.6,1196.6 578.9,1196.6 582.2,1196.6 585.4,1196.6 588.7,1196.6 591.9,1196.6 595.2,1196.6 598.5,1196.5 601.7,1196.5 605.0,1196.5 608.2,1196.5 611.5,1196.5 614.8,1196.5 618.0,1196.5 621.3,1196.5 624.6,1196.5 627.8,1196.5 631.1,1196.5 634.3,1196.5 637.6,1196.5 640.9,1196.5 644.1,1196.5 647.4,1196.5 650.6,1196.5 653.9,1196.5 657.2,1196.5 660.4,1196.5 663.7,1196.5 666.9,1196.5 670.2,1196.5 673.5,1196.5 676.7,1196.5 680.0,1196.5 683.2,1196.5 686.5,1196.5 689.8,1196.5 693.0,1196.5 696.3,1196.5 699.6,1196.5 702.8,1196.5 706.1,1196.5 709.3,1196.5 712.6,1196.5 715.9,1196.5 719.1,1196.5 722.4,1196.5 725.6,1196.5 728.9,1196.5 732.2,1196.5 735.4,1196.5 738.7,1196.5 741.9,1196.5 745.2,1196.5 748.5,1196.5 751.7,1196.5 755.0,1196.5 758.2,1196.5 761.5,1196.5 764.8,1196.5 768.0,1196.5 771.3,1196.5 774.6,1196.5 777.8,1196.5 781.1,1196.5 784.3,1196.5 787.6,1196.5 790.9,1196.5 794.1,1196.5 797.4,1196.5 800.6,1196.5 803.9,1196.5 807.2,1196.5 810.4,1196.5 813.7,1196.5 816.9,1196.5 820.2,1196.5 823.5,1196.5 826.7,1196.5 830.0,1196.5 833.2,1196.5 836.5,1196.5 839.8,1196.5 843.0,1196.5 846.3,1196.5 849.5,1196.5 852.8,1196.5 856.1,1196.5 859.3,1196.5 862.6,1196.5 865.9,1196.5 869.1,1196.5 872.4,1196.5 875.6,1196.5 878.9,1196.5 882.2,1196.5 885.4,1196.5 888.7,1196.5 891.9,1196.5 895.2,1196.5" stroke="#000000" stroke-width="3.9" stroke-dasharray="14.05 13.35"/>
<polyline class="cv" points="83.3,1087.6 86.5,1097.2 89.8,1105.3 93.0,1112.2 96.3,1118.1 99.6,1123.1 102.8,1127.5 106.1,1131.3 109.3,1134.7 112.6,1137.7 115.9,1140.4 119.1,1142.8 122.4,1145.0 125.7,1147.1 128.9,1149.0 132.2,1150.9 135.4,1152.6 138.7,1154.2 142.0,1155.8 145.2,1157.3 148.5,1158.7 151.7,1160.1 155.0,1161.5 158.3,1162.8 161.5,1164.0 164.8,1165.2 168.0,1166.4 171.3,1167.6 174.6,1168.7 177.8,1169.7 181.1,1170.8 184.3,1171.8 187.6,1172.8 190.9,1173.7 194.1,1174.6 197.4,1175.5 200.6,1176.3 203.9,1177.2 207.2,1177.9 210.4,1178.7 213.7,1179.4 217.0,1180.1 220.2,1180.8 223.5,1181.5 226.7,1182.1 230.0,1182.7 233.3,1183.3 236.5,1183.8 239.8,1184.4 243.0,1184.9 246.3,1185.4 249.6,1185.9 252.8,1186.3 256.1,1186.8 259.3,1187.2 262.6,1187.6 265.9,1188.0 269.1,1188.3 272.4,1188.7 275.6,1189.0 278.9,1189.3 282.2,1189.6 285.4,1189.9 288.7,1190.2 292.0,1190.5 295.2,1190.8 298.5,1191.0 301.7,1191.2 305.0,1191.5 308.3,1191.7 311.5,1191.9 314.8,1192.1 318.0,1192.3 321.3,1192.5 324.6,1192.6 327.8,1192.8 331.1,1193.0 334.3,1193.1 337.6,1193.3 340.9,1193.4 344.1,1193.5 347.4,1193.7 350.6,1193.8 353.9,1193.9 357.2,1194.0 360.4,1194.1 363.7,1194.2 367.0,1194.3 370.2,1194.4 373.5,1194.5 376.7,1194.6 380.0,1194.7 383.3,1194.8 386.5,1194.8 389.8,1194.9 393.0,1195.0 396.3,1195.0 399.6,1195.1 402.8,1195.2 406.1,1195.2 409.3,1195.3 412.6,1195.3 415.9,1195.4 419.1,1195.4 422.4,1195.5 425.6,1195.5 428.9,1195.6 432.2,1195.6 435.4,1195.6 438.7,1195.7 441.9,1195.7 445.2,1195.7 448.5,1195.8 451.7,1195.8 455.0,1195.8 458.3,1195.9 461.5,1195.9 464.8,1195.9 468.0,1195.9 471.3,1196.0 474.6,1196.0 477.8,1196.0 481.1,1196.0 484.3,1196.1 487.6,1196.1 490.9,1196.1 494.1,1196.1 497.4,1196.1 500.6,1196.1 503.9,1196.2 507.2,1196.2 510.4,1196.2 513.7,1196.2 516.9,1196.2 520.2,1196.2 523.5,1196.2 526.7,1196.2 530.0,1196.2 533.3,1196.3 536.5,1196.3 539.8,1196.3 543.0,1196.3 546.3,1196.3 549.6,1196.3 552.8,1196.3 556.1,1196.3 559.3,1196.3 562.6,1196.3 565.9,1196.3 569.1,1196.3 572.4,1196.3 575.6,1196.4 578.9,1196.4 582.2,1196.4 585.4,1196.4 588.7,1196.4 591.9,1196.4 595.2,1196.4 598.5,1196.4 601.7,1196.4 605.0,1196.4 608.2,1196.4 611.5,1196.4 614.8,1196.4 618.0,1196.4 621.3,1196.4 624.6,1196.4 627.8,1196.4 631.1,1196.4 634.3,1196.4 637.6,1196.4 640.9,1196.4 644.1,1196.4 647.4,1196.4 650.6,1196.4 653.9,1196.4 657.2,1196.4 660.4,1196.4 663.7,1196.4 666.9,1196.4 670.2,1196.4 673.5,1196.4 676.7,1196.4 680.0,1196.4 683.2,1196.4 686.5,1196.4 689.8,1196.4 693.0,1196.5 696.3,1196.5 699.6,1196.5 702.8,1196.5 706.1,1196.5 709.3,1196.5 712.6,1196.5 715.9,1196.5 719.1,1196.5 722.4,1196.5 725.6,1196.5 728.9,1196.5 732.2,1196.5 735.4,1196.5 738.7,1196.5 741.9,1196.5 745.2,1196.5 748.5,1196.5 751.7,1196.5 755.0,1196.5 758.2,1196.5 761.5,1196.5 764.8,1196.5 768.0,1196.5 771.3,1196.5 774.6,1196.5 777.8,1196.5 781.1,1196.5 784.3,1196.5 787.6,1196.5 790.9,1196.5 794.1,1196.5 797.4,1196.5 800.6,1196.5 803.9,1196.5 807.2,1196.5 810.4,1196.5 813.7,1196.5 816.9,1196.5 820.2,1196.5 823.5,1196.5 826.7,1196.5 830.0,1196.5 833.2,1196.5 836.5,1196.5 839.8,1196.5 843.0,1196.5 846.3,1196.5 849.5,1196.5 852.8,1196.5 856.1,1196.5 859.3,1196.5 862.6,1196.5 865.9,1196.5 869.1,1196.5 872.4,1196.5 875.6,1196.5 878.9,1196.5 882.2,1196.5 885.4,1196.5 888.7,1196.5 891.9,1196.5 895.2,1196.5" stroke="#ff0000" stroke-width="3.9" stroke-dasharray="14.05 3.16 7.03 3.16"/>
<polyline class="cv" points="83.3,953.6 86.5,974.5 89.8,990.9 93.0,1004.5 96.3,1016.1 99.6,1026.4 102.8,1035.5 106.1,1043.8 109.3,1051.4 112.6,1058.4 115.9,1064.8 119.1,1070.8 122.4,1076.4 125.7,1081.6 128.9,1086.6 132.2,1091.2 135.4,1095.5 138.7,1099.6 142.0,1103.5 145.2,1107.2 148.5,1110.7 151.7,1114.0 155.0,1117.2 158.3,1120.2 161.5,1123.1 164.8,1125.8 168.0,1128.5 171.3,1131.0 174.6,1133.4 177.8,1135.7 181.1,1137.9 184.3,1140.0 187.6,1142.1 190.9,1144.1 194.1,1145.9 197.4,1147.8 200.6,1149.5 203.9,1151.2 207.2,1152.8 210.4,1154.4 213.7,1155.9 217.0,1157.3 220.2,1158.7 223.5,1160.0 226.7,1161.3 230.0,1162.6 233.3,1163.8 236.5,1164.9 239.8,1166.1 243.0,1167.1 246.3,1168.2 249.6,1169.2 252.8,1170.1 256.1,1171.1 259.3,1172.0 262.6,1172.8 265.9,1173.7 269.1,1174.5 272.4,1175.2 275.6,1176.0 278.9,1176.7 282.2,1177.4 285.4,1178.1 288.7,1178.7 292.0,1179.3 295.2,1180.0 298.5,1180.5 301.7,1181.1 305.0,1181.6 308.3,1182.2 311.5,1182.7 314.8,1183.1 318.0,1183.6 321.3,1184.1 324.6,1184.5 327.8,1184.9 331.1,1185.3 334.3,1185.7 337.6,1186.1 340.9,1186.5 344.1,1186.8 347.4,1187.2 350.6,1187.5 353.9,1187.8 357.2,1188.1 360.4,1188.4 363.7,1188.7 367.0,1189.0 370.2,1189.2 373.5,1189.5 376.7,1189.7 380.0,1190.0 383.3,1190.2 386.5,1190.4 389.8,1190.6 393.0,1190.8 396.3,1191.0 399.6,1191.2 402.8,1191.4 406.1,1191.6 409.3,1191.8 412.6,1191.9 415.9,1192.1 419.1,1192.2 422.4,1192.4 425.6,1192.5 428.9,1192.7 432.2,1192.8 435.4,1192.9 438.7,1193.1 441.9,1193.2 445.2,1193.3 448.5,1193.4 451.7,1193.5 455.0,1193.6 458.3,1193.7 461.5,1193.8 464.8,1193.9 468.0,1194.0 471.3,1194.1 474.6,1194.2 477.8,1194.3 481.1,1194.3 484.3,1194.4 487.6,1194.5 490.9,1194.6 494.1,1194.6 497.4,1194.7 500.6,1194.7 503.9,1194.8 507.2,1194.9 510.4,1194.9 513.7,1195.0 516.9,1195.0 520.2,1195.1 523.5,1195.1 526.7,1195.2 530.0,1195.2 533.3,1195.3 536.5,1195.3 539.8,1195.4 543.0,1195.4 546.3,1195.4 549.6,1195.5 552.8,1195.5 556.1,1195.5 559.3,1195.6 562.6,1195.6 565.9,1195.6 569.1,1195.7 572.4,1195.7 575.6,1195.7 578.9,1195.7 582.2,1195.8 585.4,1195.8 588.7,1195.8 591.9,1195.8 595.2,1195.9 598.5,1195.9 601.7,1195.9 605.0,1195.9 608.2,1195.9 611.5,1196.0 614.8,1196.0 618.0,1196.0 621.3,1196.0 624.6,1196.0 627.8,1196.0 631.1,1196.1 634.3,1196.1 637.6,1196.1 640.9,1196.1 644.1,1196.1 647.4,1196.1 650.6,1196.1 653.9,1196.2 657.2,1196.2 660.4,1196.2 663.7,1196.2 666.9,1196.2 670.2,1196.2 673.5,1196.2 676.7,1196.2 680.0,1196.2 683.2,1196.2 686.5,1196.3 689.8,1196.3 693.0,1196.3 696.3,1196.3 699.6,1196.3 702.8,1196.3 706.1,1196.3 709.3,1196.3 712.6,1196.3 715.9,1196.3 719.1,1196.3 722.4,1196.3 725.6,1196.3 728.9,1196.3 732.2,1196.3 735.4,1196.3 738.7,1196.3 741.9,1196.4 745.2,1196.4 748.5,1196.4 751.7,1196.4 755.0,1196.4 758.2,1196.4 761.5,1196.4 764.8,1196.4 768.0,1196.4 771.3,1196.4 774.6,1196.4 777.8,1196.4 781.1,1196.4 784.3,1196.4 787.6,1196.4 790.9,1196.4 794.1,1196.4 797.4,1196.4 800.6,1196.4 803.9,1196.4 807.2,1196.4 810.4,1196.4 813.7,1196.4 816.9,1196.4 820.2,1196.4 823.5,1196.4 826.7,1196.4 830.0,1196.4 833.2,1196.4 836.5,1196.4 839.8,1196.4 843.0,1196.4 846.3,1196.4 849.5,1196.4 852.8,1196.4 856.1,1196.4 859.3,1196.4 862.6,1196.4 865.9,1196.4 869.1,1196.4 872.4,1196.4 875.6,1196.4 878.9,1196.4 882.2,1196.4 885.4,1196.4 888.7,1196.5 891.9,1196.5 895.2,1196.5" stroke="#ff00ff" stroke-width="3.9"/>
</g>
<path class="cv" transform="scale(1.17 1)" d="M71.2 819.6h.01M74.0 851.3h.01M76.7 874.0h.01M79.5 892.2h.01M82.3 907.9h.01M85.1 922.1h.01M87.9 935.1h.01M90.7 947.3h.01M93.5 958.7h.01M96.2 969.4h.01M99.0 979.5h.01M101.8 989.0h.01M104.6 998.0h.01M107.4 1006.6h.01M110.2 1014.6h.01M113.0 1022.3h.01M115.8 1029.5h.01M118.5 1036.4h.01M121.3 1042.9h.01M124.1 1049.1h.01M126.9 1055.0h.01M129.7 1060.7h.01M132.5 1066.0h.01M135.3 1071.2h.01M138.1 1076.1h.01M140.8 1080.7h.01M143.6 1085.2h.01M146.4 1089.4h.01M149.2 1093.5h.01M152.0 1097.4h.01M154.8 1101.1h.01M157.6 1104.7h.01M160.3 1108.1h.01M163.1 1111.4h.01M165.9 1114.6h.01M168.7 1117.6h.01M171.5 1120.5h.01M174.3 1123.3h.01M177.1 1125.9h.01M179.9 1128.5h.01M182.6 1131.0h.01M185.4 1133.4h.01M188.2 1135.6h.01M191.0 1137.8h.01M193.8 1139.9h.01M196.6 1142.0h.01M199.4 1143.9h.01M202.2 1145.8h.01M204.9 1147.6h.01M207.7 1149.4h.01M210.5 1151.0h.01M213.3 1152.7h.01M216.1 1154.2h.01M218.9 1155.7h.01M221.7 1157.2h.01M224.4 1158.5h.01M227.2 1159.9h.01M230.0 1161.2h.01M232.8 1162.4h.01M235.6 1163.6h.01M238.4 1164.8h.01M241.2 1165.9h.01M244.0 1167.0h.01M246.7 1168.0h.01M249.5 1169.0h.01M252.3 1170.0h.01M255.1 1170.9h.01M257.9 1171.8h.01M260.7 1172.7h.01M263.5 1173.5h.01M266.3 1174.3h.01M269.0 1175.1h.01M271.8 1175.8h.01M274.6 1176.6h.01M277.4 1177.3h.01M280.2 1177.9h.01M283.0 1178.6h.01M285.8 1179.2h.01M288.5 1179.8h.01M291.3 1180.4h.01M294.1 1181.0h.01M296.9 1181.5h.01M299.7 1182.0h.01M302.5 1182.5h.01M305.3 1183.0h.01M308.1 1183.5h.01M310.8 1183.9h.01M313.6 1184.4h.01M316.4 1184.8h.01M319.2 1185.2h.01M322.0 1185.6h.01M324.8 1186.0h.01M327.6 1186.3h.01M330.4 1186.7h.01M333.1 1187.0h.01M335.9 1187.4h.01M338.7 1187.7h.01M341.5 1188.0h.01M344.3 1188.3h.01M347.1 1188.6h.01M349.9 1188.9h.01M352.7 1189.1h.01M355.4 1189.4h.01M358.2 1189.6h.01M361.0 1189.9h.01M363.8 1190.1h.01M366.6 1190.3h.01M369.4 1190.5h.01M372.2 1190.7h.01M374.9 1190.9h.01M377.7 1191.1h.01M380.5 1191.3h.01M383.3 1191.5h.01M386.1 1191.7h.01M388.9 1191.8h.01M391.7 1192.0h.01M394.5 1192.2h.01M397.2 1192.3h.01M400.0 1192.5h.01M402.8 1192.6h.01M405.6 1192.7h.01M408.4 1192.9h.01M411.2 1193.0h.01M414.0 1193.1h.01M416.8 1193.2h.01M419.5 1193.3h.01M422.3 1193.4h.01M425.1 1193.6h.01M427.9 1193.7h.01M430.7 1193.8h.01M433.5 1193.8h.01M436.3 1193.9h.01M439.0 1194.0h.01M441.8 1194.1h.01M444.6 1194.2h.01M447.4 1194.3h.01M450.2 1194.4h.01M453.0 1194.4h.01M455.8 1194.5h.01M458.6 1194.6h.01M461.3 1194.6h.01M464.1 1194.7h.01M466.9 1194.8h.01M469.7 1194.8h.01M472.5 1194.9h.01M475.3 1194.9h.01M478.1 1195.0h.01M480.9 1195.0h.01M483.6 1195.1h.01M486.4 1195.1h.01M489.2 1195.2h.01M492.0 1195.2h.01M494.8 1195.3h.01M497.6 1195.3h.01M500.4 1195.4h.01M503.1 1195.4h.01M505.9 1195.4h.01M508.7 1195.5h.01M511.5 1195.5h.01M514.3 1195.5h.01M517.1 1195.6h.01M519.9 1195.6h.01M522.7 1195.6h.01M525.4 1195.7h.01M528.2 1195.7h.01M531.0 1195.7h.01M533.8 1195.7h.01M536.6 1195.8h.01M539.4 1195.8h.01M542.2 1195.8h.01M545.0 1195.8h.01M547.7 1195.9h.01M550.5 1195.9h.01M553.3 1195.9h.01M556.1 1195.9h.01M558.9 1195.9h.01M561.7 1196.0h.01M564.5 1196.0h.01M567.3 1196.0h.01M570.0 1196.0h.01M572.8 1196.0h.01M575.6 1196.0h.01M578.4 1196.1h.01M581.2 1196.1h.01M584.0 1196.1h.01M586.8 1196.1h.01M589.5 1196.1h.01M592.3 1196.1h.01M595.1 1196.1h.01M597.9 1196.2h.01M600.7 1196.2h.01M603.5 1196.2h.01M606.3 1196.2h.01M609.1 1196.2h.01M611.8 1196.2h.01M614.6 1196.2h.01M617.4 1196.2h.01M620.2 1196.2h.01M623.0 1196.2h.01M625.8 1196.2h.01M628.6 1196.3h.01M631.4 1196.3h.01M634.1 1196.3h.01M636.9 1196.3h.01M639.7 1196.3h.01M642.5 1196.3h.01M645.3 1196.3h.01M648.1 1196.3h.01M650.9 1196.3h.01M653.6 1196.3h.01M656.4 1196.3h.01M659.2 1196.3h.01M662.0 1196.3h.01M664.8 1196.3h.01M667.6 1196.3h.01M670.4 1196.3h.01M673.2 1196.4h.01M675.9 1196.4h.01M678.7 1196.4h.01M681.5 1196.4h.01M684.3 1196.4h.01M687.1 1196.4h.01M689.9 1196.4h.01M692.7 1196.4h.01M695.5 1196.4h.01M698.2 1196.4h.01M701.0 1196.4h.01M703.8 1196.4h.01M706.6 1196.4h.01M709.4 1196.4h.01M712.2 1196.4h.01M715.0 1196.4h.01M717.7 1196.4h.01M720.5 1196.4h.01M723.3 1196.4h.01M726.1 1196.4h.01M728.9 1196.4h.01M731.7 1196.4h.01M734.5 1196.4h.01M737.3 1196.4h.01M740.0 1196.4h.01M742.8 1196.4h.01M745.6 1196.4h.01M748.4 1196.4h.01M751.2 1196.4h.01M754.0 1196.4h.01M756.8 1196.4h.01M759.6 1196.4h.01M762.3 1196.4h.01M765.1 1196.4h.01" stroke="#00ff00" stroke-width="4.3" stroke-linecap="round"/>
<g clip-path="url(#clip-c)">
<polyline class="cv" points="83.3,685.6 86.5,726.1 89.8,757.1 93.0,782.4 96.3,804.0 99.6,823.4 102.8,841.1 106.1,857.4 109.3,872.8 112.6,887.2 115.9,900.9 119.1,913.8 122.4,926.1 125.7,937.8 128.9,948.9 132.2,959.4 135.4,969.5 138.7,979.0 142.0,988.1 145.2,996.8 148.5,1005.0 151.7,1012.9 155.0,1020.4 158.3,1027.5 161.5,1034.3 164.8,1040.8 168.0,1047.0 171.3,1053.0 174.6,1058.6 177.8,1064.1 181.1,1069.2 184.3,1074.2 187.6,1078.9 190.9,1083.4 194.1,1087.8 197.4,1091.9 200.6,1095.9 203.9,1099.7 207.2,1103.3 210.4,1106.8 213.7,1110.2 217.0,1113.4 220.2,1116.4 223.5,1119.4 226.7,1122.2 230.0,1124.9 233.3,1127.5 236.5,1130.0 239.8,1132.4 243.0,1134.8 246.3,1137.0 249.6,1139.1 252.8,1141.2 256.1,1143.1 259.3,1145.0 262.6,1146.8 265.9,1148.6 269.1,1150.3 272.4,1151.9 275.6,1153.5 278.9,1155.0 282.2,1156.4 285.4,1157.8 288.7,1159.1 292.0,1160.4 295.2,1161.7 298.5,1162.9 301.7,1164.0 305.0,1165.1 308.3,1166.2 311.5,1167.2 314.8,1168.2 318.0,1169.2 321.3,1170.1 324.6,1171.0 327.8,1171.9 331.1,1172.7 334.3,1173.5 337.6,1174.3 340.9,1175.0 344.1,1175.8 347.4,1176.5 350.6,1177.1 353.9,1177.8 357.2,1178.4 360.4,1179.0 363.7,1179.6 367.0,1180.2 370.2,1180.7 373.5,1181.2 376.7,1181.7 380.0,1182.2 383.3,1182.7 386.5,1183.1 389.8,1183.6 393.0,1184.0 396.3,1184.4 399.6,1184.8 402.8,1185.2 406.1,1185.6 409.3,1185.9 412.6,1186.3 415.9,1186.6 419.1,1186.9 422.4,1187.3 425.6,1187.6 428.9,1187.9 432.2,1188.1 435.4,1188.4 438.7,1188.7 441.9,1188.9 445.2,1189.2 448.5,1189.4 451.7,1189.7 455.0,1189.9 458.3,1190.1 461.5,1190.3 464.8,1190.5 468.0,1190.7 471.3,1190.9 474.6,1191.1 477.8,1191.2 481.1,1191.4 484.3,1191.6 487.6,1191.7 490.9,1191.9 494.1,1192.0 497.4,1192.2 500.6,1192.3 503.9,1192.5 507.2,1192.6 510.4,1192.7 513.7,1192.8 516.9,1193.0 520.2,1193.1 523.5,1193.2 526.7,1193.3 530.0,1193.4 533.3,1193.5 536.5,1193.6 539.8,1193.7 543.0,1193.8 546.3,1193.9 549.6,1193.9 552.8,1194.0 556.1,1194.1 559.3,1194.2 562.6,1194.3 565.9,1194.3 569.1,1194.4 572.4,1194.5 575.6,1194.5 578.9,1194.6 582.2,1194.7 585.4,1194.7 588.7,1194.8 591.9,1194.8 595.2,1194.9 598.5,1194.9 601.7,1195.0 605.0,1195.0 608.2,1195.1 611.5,1195.1 614.8,1195.2 618.0,1195.2 621.3,1195.3 624.6,1195.3 627.8,1195.3 631.1,1195.4 634.3,1195.4 637.6,1195.4 640.9,1195.5 644.1,1195.5 647.4,1195.5 650.6,1195.6 653.9,1195.6 657.2,1195.6 660.4,1195.7 663.7,1195.7 666.9,1195.7 670.2,1195.7 673.5,1195.8 676.7,1195.8 680.0,1195.8 683.2,1195.8 686.5,1195.8 689.8,1195.9 693.0,1195.9 696.3,1195.9 699.6,1195.9 702.8,1195.9 706.1,1196.0 709.3,1196.0 712.6,1196.0 715.9,1196.0 719.1,1196.0 722.4,1196.0 725.6,1196.0 728.9,1196.1 732.2,1196.1 735.4,1196.1 738.7,1196.1 741.9,1196.1 745.2,1196.1 748.5,1196.1 751.7,1196.1 755.0,1196.2 758.2,1196.2 761.5,1196.2 764.8,1196.2 768.0,1196.2 771.3,1196.2 774.6,1196.2 777.8,1196.2 781.1,1196.2 784.3,1196.2 787.6,1196.2 790.9,1196.3 794.1,1196.3 797.4,1196.3 800.6,1196.3 803.9,1196.3 807.2,1196.3 810.4,1196.3 813.7,1196.3 816.9,1196.3 820.2,1196.3 823.5,1196.3 826.7,1196.3 830.0,1196.3 833.2,1196.3 836.5,1196.3 839.8,1196.3 843.0,1196.3 846.3,1196.3 849.5,1196.4 852.8,1196.4 856.1,1196.4 859.3,1196.4 862.6,1196.4 865.9,1196.4 869.1,1196.4 872.4,1196.4 875.6,1196.4 878.9,1196.4 882.2,1196.4 885.4,1196.4 888.7,1196.4 891.9,1196.4 895.2,1196.4" stroke="#0000ff" stroke-width="4.8" stroke-dasharray="4.3 4.27"/>
</g>
<text class="tk" text-anchor="middle" x="80.00" y="1251.40" textLength="13.85" lengthAdjust="spacingAndGlyphs">0</text>
<text class="tk" text-anchor="middle" x="243.04" y="1251.40" textLength="13.85" lengthAdjust="spacingAndGlyphs">5</text>
<text class="tk" text-anchor="middle" x="406.08" y="1251.40" textLength="27.70" lengthAdjust="spacingAndGlyphs">10</text>
<text class="tk" text-anchor="middle" x="569.12" y="1251.40" textLength="27.70" lengthAdjust="spacingAndGlyphs">15</text>
<text class="tk" text-anchor="middle" x="732.16" y="1251.40" textLength="27.70" lengthAdjust="spacingAndGlyphs">20</text>
<text class="tk" text-anchor="middle" x="895.20" y="1251.40" textLength="27.70" lengthAdjust="spacingAndGlyphs">25</text>
<text class="tk" text-anchor="end" x="70.20" y="1229.60" textLength="13.85" lengthAdjust="spacingAndGlyphs">0</text>
<text class="tk" text-anchor="end" x="70.20" y="1162.60" textLength="13.85" lengthAdjust="spacingAndGlyphs">2</text>
<text class="tk" text-anchor="end" x="70.20" y="1095.60" textLength="13.85" lengthAdjust="spacingAndGlyphs">4</text>
<text class="tk" text-anchor="end" x="70.20" y="1028.60" textLength="13.85" lengthAdjust="spacingAndGlyphs">6</text>
<text class="tk" text-anchor="end" x="70.20" y="961.60" textLength="13.85" lengthAdjust="spacingAndGlyphs">8</text>
<text class="tk" text-anchor="end" x="70.20" y="894.60" textLength="27.70" lengthAdjust="spacingAndGlyphs">10</text>
<text class="tk" text-anchor="end" x="70.20" y="827.60" textLength="27.70" lengthAdjust="spacingAndGlyphs">12</text>
<text class="tk" text-anchor="end" x="70.20" y="760.60" textLength="27.70" lengthAdjust="spacingAndGlyphs">14</text>
<text class="tk" text-anchor="end" x="70.20" y="693.60" textLength="27.70" lengthAdjust="spacingAndGlyphs">16</text>
<text class="lb" text-anchor="middle" x="487.60" y="1281.10" textLength="136.96" lengthAdjust="spacingAndGlyphs">Time(days)</text>
<text class="tt" text-anchor="middle" x="487.60" y="678.50" textLength="31.94" lengthAdjust="spacingAndGlyphs">(c)</text>
<text class="lb" style="font-size:27.39px" text-anchor="middle" transform="translate(27.90 953.60) rotate(-90)" textLength="37.88" lengthAdjust="spacingAndGlyphs">G(t)</text>
<rect x="581.60" y="702.00" width="294.00" height="130.80" fill="#fff" stroke="#262626" stroke-width="1.5"/>
<path d="M588.80 717.60H664.00" stroke="#000000" stroke-width="3.9" stroke-dasharray="14.05 13.35"/>
<text class="lg" text-anchor="start" x="669.60" y="724.10" textLength="178.25" lengthAdjust="spacingAndGlyphs">Y0=[10  0  0  0  0]</text>
<path d="M588.80 742.50H664.00" stroke="#ff0000" stroke-width="3.9" stroke-dasharray="14.05 3.16 7.03 3.16"/>
<text class="lg" text-anchor="start" x="669.60" y="749.00" textLength="165.74" lengthAdjust="spacingAndGlyphs">Y0=[6  2  4  6  1]</text>
<path d="M588.80 767.40H664.00" stroke="#ff00ff" stroke-width="3.9"/>
<text class="lg" text-anchor="start" x="669.60" y="773.90" textLength="184.52" lengthAdjust="spacingAndGlyphs">Y0=[13  4  8  12 2]</text>
<ellipse cx="626.40" cy="792.30" rx="2.5" ry="2.1" fill="#00ff00"/>
<text class="lg" text-anchor="start" x="669.60" y="798.80" textLength="178.26" lengthAdjust="spacingAndGlyphs">Y0=[15  6  12 0 3]</text>
<path d="M588.80 817.20H664.00" stroke="#0000ff" stroke-width="4.8" stroke-dasharray="4.3 4.27"/>
<text class="lg" text-anchor="start" x="669.60" y="823.70" textLength="197.03" lengthAdjust="spacingAndGlyphs">Y0=[17  8  16 20  4]</text>
</g>
<g id="plot-d">
<clipPath id="clip-d"><rect x="1194.00" y="682.60" width="821.20" height="542.00"/></clipPath>
<path class="ax" d="M1197.00 685.60H2012.20V1221.60H1197.00ZM1197.00 1221.60v-7.20M1197.00 685.60v7.20M1360.04 1221.60v-7.20M1360.04 685.60v7.20M1523.08 1221.60v-7.20M1523.08 685.60v7.20M1686.12 1221.60v-7.20M1686.12 685.60v7.20M1849.16 1221.60v-7.20M1849.16 685.60v7.20M2012.20 1221.60v-7.20M2012.20 685.60v7.20M1197.00 1221.60h8.80M2012.20 1221.60h-8.80M1197.00 1114.40h8.80M2012.20 1114.40h-8.80M1197.00 1007.20h8.80M2012.20 1007.20h-8.80M1197.00 900.00h8.80M2012.20 900.00h-8.80M1197.00 792.80h8.80M2012.20 792.80h-8.80M1197.00 685.60h8.80M2012.20 685.60h-8.80"/>
<g clip-path="url(#clip-d)">
<polyline class="cv" points="1197.8,1221.6 1198.6,1220.4 1199.4,1219.1 1200.3,1217.9 1201.1,1216.6 1201.9,1215.4 1202.7,1214.1 1203.5,1212.8 1204.3,1211.6 1205.2,1210.3 1206.0,1209.0 1206.8,1207.7 1207.6,1206.4 1208.4,1205.1 1209.2,1203.8 1210.0,1202.5 1210.9,1201.2 1211.7,1199.8 1212.5,1198.5 1213.3,1197.2 1214.1,1195.9 1214.9,1194.6 1215.7,1193.3 1216.6,1192.0 1217.4,1190.7 1218.2,1189.4 1219.0,1188.1 1219.8,1186.8 1220.6,1185.5 1221.5,1184.2 1222.3,1182.9 1223.1,1181.6 1223.9,1180.3 1224.7,1179.0 1225.5,1177.7 1226.3,1176.5 1227.2,1175.2 1228.0,1173.9 1228.8,1172.6 1229.6,1171.4 1230.4,1170.1 1231.2,1168.9 1232.1,1167.6 1232.9,1166.4 1233.7,1165.2 1234.5,1163.9 1235.3,1162.7 1236.1,1161.5 1236.9,1160.3 1237.8,1159.1 1238.6,1157.9 1239.4,1156.7 1240.2,1155.5 1241.0,1154.3 1241.8,1153.1 1242.7,1152.0 1243.5,1150.8 1244.3,1149.6 1245.1,1148.5 1245.9,1147.3 1246.7,1146.2 1248.4,1143.9 1250.0,1141.7 1251.6,1139.5 1253.2,1137.3 1254.9,1135.1 1256.5,1133.0 1258.1,1130.9 1259.8,1128.8 1261.4,1126.8 1263.0,1124.7 1264.7,1122.7 1266.3,1120.7 1267.9,1118.8 1269.6,1116.8 1271.2,1114.9 1272.8,1113.0 1274.4,1111.2 1276.1,1109.3 1277.7,1107.5 1279.3,1105.7 1281.0,1103.9 1282.6,1102.2 1284.2,1100.5 1285.9,1098.7 1287.5,1097.1 1289.1,1095.4 1290.7,1093.8 1292.4,1092.1 1294.0,1090.5 1295.6,1088.9 1297.3,1087.4 1298.9,1085.8 1300.5,1084.3 1302.2,1082.8 1303.8,1081.3 1305.4,1079.8 1307.1,1078.4 1308.7,1076.9 1310.3,1075.5 1311.9,1074.1 1313.6,1072.7 1315.2,1071.4 1316.8,1070.0 1318.5,1068.7 1320.1,1067.4 1321.7,1066.1 1323.4,1064.8 1325.0,1063.5 1326.6,1062.2 1328.2,1061.0 1329.9,1059.8 1331.5,1058.6 1333.1,1057.3 1334.8,1056.2 1336.4,1055.0 1338.0,1053.8 1339.7,1052.7 1341.3,1051.5 1342.9,1050.4 1344.6,1049.3 1346.2,1048.2 1347.8,1047.1 1349.4,1046.0 1351.1,1045.0 1352.7,1043.9 1354.3,1042.9 1356.0,1041.9 1357.6,1040.8 1359.2,1039.8 1360.9,1038.8 1362.5,1037.8 1364.1,1036.9 1365.7,1035.9 1367.4,1034.9 1369.0,1034.0 1370.6,1033.1 1372.3,1032.1 1373.9,1031.2 1375.5,1030.3 1377.2,1029.4 1378.8,1028.5 1380.4,1027.7 1382.1,1026.8 1383.7,1025.9 1385.3,1025.1 1386.9,1024.2 1388.6,1023.4 1390.2,1022.6 1391.8,1021.7 1393.5,1020.9 1395.1,1020.1 1396.7,1019.3 1398.4,1018.5 1400.0,1017.8 1401.6,1017.0 1403.2,1016.2 1404.9,1015.5 1406.5,1014.7 1408.1,1014.0 1409.8,1013.3 1411.4,1012.5 1413.0,1011.8 1414.7,1011.1 1416.3,1010.4 1417.9,1009.7 1419.5,1009.0 1421.2,1008.3 1422.8,1007.6 1424.4,1007.0 1426.1,1006.3 1427.7,1005.6 1429.3,1005.0 1431.0,1004.3 1432.6,1003.7 1434.2,1003.1 1435.9,1002.4 1437.5,1001.8 1439.1,1001.2 1440.7,1000.6 1442.4,1000.0 1444.0,999.4 1445.6,998.8 1447.3,998.2 1448.9,997.6 1450.5,997.0 1452.2,996.5 1453.8,995.9 1455.4,995.3 1457.0,994.8 1458.7,994.2 1460.3,993.7 1461.9,993.2 1463.6,992.6 1465.2,992.1 1466.8,991.6 1468.5,991.0 1470.1,990.5 1471.7,990.0 1473.4,989.5 1475.0,989.0 1476.6,988.5 1478.2,988.0 1479.9,987.5 1481.5,987.1 1483.1,986.6 1484.8,986.1 1486.4,985.6 1488.0,985.2 1489.7,984.7 1491.3,984.3 1492.9,983.8 1494.5,983.4 1496.2,982.9 1497.8,982.5 1499.4,982.0 1501.1,981.6 1502.7,981.2 1504.3,980.8 1506.0,980.3 1507.6,979.9 1509.2,979.5 1510.9,979.1 1512.5,978.7 1514.1,978.3 1515.7,977.9 1517.4,977.5 1519.0,977.1 1520.6,976.7 1522.3,976.4 1523.9,976.0 1525.5,975.6 1527.2,975.2 1528.8,974.9 1530.4,974.5 1532.0,974.1 1533.7,973.8 1535.3,973.4 1536.9,973.1 1538.6,972.7 1540.2,972.4 1541.8,972.0 1543.5,971.7 1545.1,971.4 1546.7,971.0 1548.4,970.7 1550.0,970.4 1551.6,970.1 1553.2,969.7 1554.9,969.4 1556.5,969.1 1558.1,968.8 1559.8,968.5 1561.4,968.2 1563.0,967.9 1564.7,967.6 1566.3,967.3 1567.9,967.0 1569.5,966.7 1571.2,966.4 1572.8,966.1 1574.4,965.8 1576.1,965.6 1577.7,965.3 1579.3,965.0 1581.0,964.7 1582.6,964.5 1584.2,964.2 1585.9,963.9 1587.5,963.7 1589.1,963.4 1590.7,963.1 1592.4,962.9 1594.0,962.6 1595.6,962.4 1597.3,962.1 1598.9,961.9 1600.5,961.6 1602.2,961.4 1603.8,961.1 1605.4,960.9 1607.0,960.7 1608.7,960.4 1610.3,960.2 1611.9,960.0 1613.6,959.7 1615.2,959.5 1616.8,959.3 1618.5,959.1 1620.1,958.9 1621.7,958.6 1623.3,958.4 1625.0,958.2 1626.6,958.0 1628.2,957.8 1629.9,957.6 1631.5,957.4 1633.1,957.2 1634.8,957.0 1636.4,956.8 1638.0,956.6 1639.7,956.4 1641.3,956.2 1642.9,956.0 1644.5,955.8 1646.2,955.6 1647.8,955.4 1649.4,955.2 1651.1,955.1 1652.7,954.9 1654.3,954.7 1656.0,954.5 1657.6,954.3 1659.2,954.2 1660.8,954.0 1662.5,953.8 1664.1,953.6 1665.7,953.5 1667.4,953.3 1669.0,953.1 1670.6,953.0 1672.3,952.8 1673.9,952.6 1675.5,952.5 1677.2,952.3 1678.8,952.2 1680.4,952.0 1682.0,951.9 1683.7,951.7 1685.3,951.6 1686.9,951.4 1688.6,951.3 1690.2,951.1 1691.8,951.0 1693.5,950.8 1695.1,950.7 1696.7,950.5 1698.3,950.4 1700.0,950.2 1701.6,950.1 1703.2,950.0 1704.9,949.8 1706.5,949.7 1708.1,949.6 1709.8,949.4 1711.4,949.3 1713.0,949.2 1714.7,949.0 1716.3,948.9 1717.9,948.8 1719.5,948.7 1721.2,948.5 1722.8,948.4 1724.4,948.3 1726.1,948.2 1727.7,948.1 1729.3,947.9 1731.0,947.8 1732.6,947.7 1734.2,947.6 1735.8,947.5 1737.5,947.4 1739.1,947.3 1740.7,947.1 1742.4,947.0 1744.0,946.9 1745.6,946.8 1747.3,946.7 1748.9,946.6 1750.5,946.5 1752.2,946.4 1753.8,946.3 1755.4,946.2 1757.0,946.1 1758.7,946.0 1760.3,945.9 1761.9,945.8 1763.6,945.7 1765.2,945.6 1766.8,945.5 1768.5,945.4 1770.1,945.3 1771.7,945.2 1773.3,945.1 1775.0,945.0 1776.6,944.9 1778.2,944.9 1779.9,944.8 1781.5,944.7 1783.1,944.6 1784.8,944.5 1786.4,944.4 1788.0,944.3 1789.7,944.2 1791.3,944.2 1792.9,944.1 1794.5,944.0 1796.2,943.9 1797.8,943.8 1799.4,943.8 1801.1,943.7 1802.7,943.6 1804.3,943.5 1806.0,943.4 1807.6,943.4 1809.2,943.3 1810.8,943.2 1812.5,943.1 1814.1,943.1 1815.7,943.0 1817.4,942.9 1819.0,942.9 1820.6,942.8 1822.3,942.7 1823.9,942.6 1825.5,942.6 1827.1,942.5 1828.8,942.4 1830.4,942.4 1832.0,942.3 1833.7,942.2 1835.3,942.2 1836.9,942.1 1838.6,942.1 1840.2,942.0 1841.8,941.9 1843.5,941.9 1845.1,941.8 1846.7,941.7 1848.3,941.7 1850.0,941.6 1851.6,941.6 1853.2,941.5 1854.9,941.4 1856.5,941.4 1858.1,941.3 1859.8,941.3 1861.4,941.2 1863.0,941.2 1864.6,941.1 1866.3,941.1 1867.9,941.0 1869.5,940.9 1871.2,940.9 1872.8,940.8 1874.4,940.8 1876.1,940.7 1877.7,940.7 1879.3,940.6 1881.0,940.6 1882.6,940.5 1884.2,940.5 1885.8,940.4 1887.5,940.4 1889.1,940.3 1890.7,940.3 1892.4,940.2 1894.0,940.2 1895.6,940.2 1897.3,940.1 1898.9,940.1 1900.5,940.0 1902.1,940.0 1903.8,939.9 1905.4,939.9 1907.0,939.8 1908.7,939.8 1910.3,939.8 1911.9,939.7 1913.6,939.7 1915.2,939.6 1916.8,939.6 1918.5,939.5 1920.1,939.5 1921.7,939.5 1923.3,939.4 1925.0,939.4 1926.6,939.4 1928.2,939.3 1929.9,939.3 1931.5,939.2 1933.1,939.2 1934.8,939.2 1936.4,939.1 1938.0,939.1 1939.6,939.1 1941.3,939.0 1942.9,939.0 1944.5,938.9 1946.2,938.9 1947.8,938.9 1949.4,938.8 1951.1,938.8 1952.7,938.8 1954.3,938.7 1956.0,938.7 1957.6,938.7 1959.2,938.6 1960.8,938.6 1962.5,938.6 1964.1,938.6 1965.7,938.5 1967.4,938.5 1969.0,938.5 1970.6,938.4 1972.3,938.4 1973.9,938.4 1975.5,938.3 1977.1,938.3 1978.8,938.3 1980.4,938.3 1982.0,938.2 1983.7,938.2 1985.3,938.2 1986.9,938.1 1988.6,938.1 1990.2,938.1 1991.8,938.1 1993.5,938.0 1995.1,938.0 1996.7,938.0 1998.3,938.0 2000.0,937.9 2001.6,937.9 2003.2,937.9 2004.9,937.9 2006.5,937.8 2008.1,937.8 2009.8,937.8 2011.4,937.8 2012.2,937.7" stroke="#000000" stroke-width="3.9" stroke-dasharray="14.05 13.35"/>
<polyline class="cv" points="1197.8,1093.0 1198.6,1097.8 1199.4,1096.0 1200.3,1094.2 1201.1,1092.5 1201.9,1090.8 1202.7,1089.2 1203.5,1087.6 1204.3,1086.1 1205.2,1084.6 1206.0,1083.2 1206.8,1081.8 1207.6,1080.5 1208.4,1079.2 1209.2,1077.9 1210.0,1076.7 1210.9,1075.5 1211.7,1074.3 1212.5,1073.2 1213.3,1072.1 1214.1,1071.0 1214.9,1069.9 1215.7,1068.9 1216.6,1067.9 1217.4,1066.9 1218.2,1066.0 1219.0,1065.1 1219.8,1064.1 1220.6,1063.3 1221.5,1062.4 1222.3,1061.5 1223.1,1060.7 1223.9,1059.9 1224.7,1059.1 1225.5,1058.3 1226.3,1057.5 1227.2,1056.8 1228.0,1056.0 1228.8,1055.3 1229.6,1054.6 1230.4,1053.9 1231.2,1053.2 1232.1,1052.5 1232.9,1051.9 1233.7,1051.2 1234.5,1050.5 1235.3,1049.9 1236.1,1049.3 1236.9,1048.7 1237.8,1048.1 1238.6,1047.5 1239.4,1046.9 1240.2,1046.3 1241.0,1045.7 1241.8,1045.1 1242.7,1044.6 1243.5,1044.0 1244.3,1043.5 1245.1,1042.9 1245.9,1042.4 1246.7,1041.9 1248.4,1040.8 1250.0,1039.8 1251.6,1038.8 1253.2,1037.8 1254.9,1036.8 1256.5,1035.9 1258.1,1035.0 1259.8,1034.0 1261.4,1033.1 1263.0,1032.3 1264.7,1031.4 1266.3,1030.5 1267.9,1029.7 1269.6,1028.8 1271.2,1028.0 1272.8,1027.2 1274.4,1026.4 1276.1,1025.6 1277.7,1024.8 1279.3,1024.0 1281.0,1023.2 1282.6,1022.5 1284.2,1021.7 1285.9,1021.0 1287.5,1020.2 1289.1,1019.5 1290.7,1018.8 1292.4,1018.1 1294.0,1017.4 1295.6,1016.7 1297.3,1016.0 1298.9,1015.3 1300.5,1014.6 1302.2,1013.9 1303.8,1013.2 1305.4,1012.6 1307.1,1011.9 1308.7,1011.3 1310.3,1010.6 1311.9,1010.0 1313.6,1009.4 1315.2,1008.7 1316.8,1008.1 1318.5,1007.5 1320.1,1006.9 1321.7,1006.3 1323.4,1005.7 1325.0,1005.1 1326.6,1004.5 1328.2,1003.9 1329.9,1003.3 1331.5,1002.7 1333.1,1002.2 1334.8,1001.6 1336.4,1001.0 1338.0,1000.5 1339.7,999.9 1341.3,999.4 1342.9,998.8 1344.6,998.3 1346.2,997.8 1347.8,997.2 1349.4,996.7 1351.1,996.2 1352.7,995.7 1354.3,995.1 1356.0,994.6 1357.6,994.1 1359.2,993.6 1360.9,993.1 1362.5,992.6 1364.1,992.2 1365.7,991.7 1367.4,991.2 1369.0,990.7 1370.6,990.3 1372.3,989.8 1373.9,989.3 1375.5,988.9 1377.2,988.4 1378.8,988.0 1380.4,987.5 1382.1,987.1 1383.7,986.6 1385.3,986.2 1386.9,985.8 1388.6,985.3 1390.2,984.9 1391.8,984.5 1393.5,984.1 1395.1,983.6 1396.7,983.2 1398.4,982.8 1400.0,982.4 1401.6,982.0 1403.2,981.6 1404.9,981.2 1406.5,980.8 1408.1,980.4 1409.8,980.1 1411.4,979.7 1413.0,979.3 1414.7,978.9 1416.3,978.5 1417.9,978.2 1419.5,977.8 1421.2,977.4 1422.8,977.1 1424.4,976.7 1426.1,976.4 1427.7,976.0 1429.3,975.7 1431.0,975.3 1432.6,975.0 1434.2,974.6 1435.9,974.3 1437.5,974.0 1439.1,973.6 1440.7,973.3 1442.4,973.0 1444.0,972.7 1445.6,972.3 1447.3,972.0 1448.9,971.7 1450.5,971.4 1452.2,971.1 1453.8,970.8 1455.4,970.5 1457.0,970.2 1458.7,969.9 1460.3,969.6 1461.9,969.3 1463.6,969.0 1465.2,968.7 1466.8,968.4 1468.5,968.1 1470.1,967.8 1471.7,967.5 1473.4,967.3 1475.0,967.0 1476.6,966.7 1478.2,966.5 1479.9,966.2 1481.5,965.9 1483.1,965.6 1484.8,965.4 1486.4,965.1 1488.0,964.9 1489.7,964.6 1491.3,964.4 1492.9,964.1 1494.5,963.9 1496.2,963.6 1497.8,963.4 1499.4,963.1 1501.1,962.9 1502.7,962.6 1504.3,962.4 1506.0,962.2 1507.6,961.9 1509.2,961.7 1510.9,961.5 1512.5,961.2 1514.1,961.0 1515.7,960.8 1517.4,960.6 1519.0,960.3 1520.6,960.1 1522.3,959.9 1523.9,959.7 1525.5,959.5 1527.2,959.3 1528.8,959.1 1530.4,958.9 1532.0,958.7 1533.7,958.4 1535.3,958.2 1536.9,958.0 1538.6,957.8 1540.2,957.6 1541.8,957.5 1543.5,957.3 1545.1,957.1 1546.7,956.9 1548.4,956.7 1550.0,956.5 1551.6,956.3 1553.2,956.1 1554.9,955.9 1556.5,955.8 1558.1,955.6 1559.8,955.4 1561.4,955.2 1563.0,955.0 1564.7,954.9 1566.3,954.7 1567.9,954.5 1569.5,954.4 1571.2,954.2 1572.8,954.0 1574.4,953.9 1576.1,953.7 1577.7,953.5 1579.3,953.4 1581.0,953.2 1582.6,953.0 1584.2,952.9 1585.9,952.7 1587.5,952.6 1589.1,952.4 1590.7,952.3 1592.4,952.1 1594.0,952.0 1595.6,951.8 1597.3,951.7 1598.9,951.5 1600.5,951.4 1602.2,951.2 1603.8,951.1 1605.4,951.0 1607.0,950.8 1608.7,950.7 1610.3,950.5 1611.9,950.4 1613.6,950.3 1615.2,950.1 1616.8,950.0 1618.5,949.9 1620.1,949.7 1621.7,949.6 1623.3,949.5 1625.0,949.4 1626.6,949.2 1628.2,949.1 1629.9,949.0 1631.5,948.9 1633.1,948.7 1634.8,948.6 1636.4,948.5 1638.0,948.4 1639.7,948.3 1641.3,948.1 1642.9,948.0 1644.5,947.9 1646.2,947.8 1647.8,947.7 1649.4,947.6 1651.1,947.4 1652.7,947.3 1654.3,947.2 1656.0,947.1 1657.6,947.0 1659.2,946.9 1660.8,946.8 1662.5,946.7 1664.1,946.6 1665.7,946.5 1667.4,946.4 1669.0,946.3 1670.6,946.2 1672.3,946.1 1673.9,946.0 1675.5,945.9 1677.2,945.8 1678.8,945.7 1680.4,945.6 1682.0,945.5 1683.7,945.4 1685.3,945.3 1686.9,945.2 1688.6,945.1 1690.2,945.0 1691.8,944.9 1693.5,944.9 1695.1,944.8 1696.7,944.7 1698.3,944.6 1700.0,944.5 1701.6,944.4 1703.2,944.3 1704.9,944.2 1706.5,944.2 1708.1,944.1 1709.8,944.0 1711.4,943.9 1713.0,943.8 1714.7,943.8 1716.3,943.7 1717.9,943.6 1719.5,943.5 1721.2,943.4 1722.8,943.4 1724.4,943.3 1726.1,943.2 1727.7,943.1 1729.3,943.1 1731.0,943.0 1732.6,942.9 1734.2,942.8 1735.8,942.8 1737.5,942.7 1739.1,942.6 1740.7,942.6 1742.4,942.5 1744.0,942.4 1745.6,942.3 1747.3,942.3 1748.9,942.2 1750.5,942.1 1752.2,942.1 1753.8,942.0 1755.4,941.9 1757.0,941.9 1758.7,941.8 1760.3,941.8 1761.9,941.7 1763.6,941.6 1765.2,941.6 1766.8,941.5 1768.5,941.4 1770.1,941.4 1771.7,941.3 1773.3,941.3 1775.0,941.2 1776.6,941.1 1778.2,941.1 1779.9,941.0 1781.5,941.0 1783.1,940.9 1784.8,940.9 1786.4,940.8 1788.0,940.8 1789.7,940.7 1791.3,940.6 1792.9,940.6 1794.5,940.5 1796.2,940.5 1797.8,940.4 1799.4,940.4 1801.1,940.3 1802.7,940.3 1804.3,940.2 1806.0,940.2 1807.6,940.1 1809.2,940.1 1810.8,940.0 1812.5,940.0 1814.1,939.9 1815.7,939.9 1817.4,939.8 1819.0,939.8 1820.6,939.8 1822.3,939.7 1823.9,939.7 1825.5,939.6 1827.1,939.6 1828.8,939.5 1830.4,939.5 1832.0,939.4 1833.7,939.4 1835.3,939.4 1836.9,939.3 1838.6,939.3 1840.2,939.2 1841.8,939.2 1843.5,939.1 1845.1,939.1 1846.7,939.1 1848.3,939.0 1850.0,939.0 1851.6,938.9 1853.2,938.9 1854.9,938.9 1856.5,938.8 1858.1,938.8 1859.8,938.7 1861.4,938.7 1863.0,938.7 1864.6,938.6 1866.3,938.6 1867.9,938.6 1869.5,938.5 1871.2,938.5 1872.8,938.5 1874.4,938.4 1876.1,938.4 1877.7,938.4 1879.3,938.3 1881.0,938.3 1882.6,938.3 1884.2,938.2 1885.8,938.2 1887.5,938.2 1889.1,938.1 1890.7,938.1 1892.4,938.1 1894.0,938.0 1895.6,938.0 1897.3,938.0 1898.9,937.9 1900.5,937.9 1902.1,937.9 1903.8,937.8 1905.4,937.8 1907.0,937.8 1908.7,937.8 1910.3,937.7 1911.9,937.7 1913.6,937.7 1915.2,937.6 1916.8,937.6 1918.5,937.6 1920.1,937.6 1921.7,937.5 1923.3,937.5 1925.0,937.5 1926.6,937.5 1928.2,937.4 1929.9,937.4 1931.5,937.4 1933.1,937.3 1934.8,937.3 1936.4,937.3 1938.0,937.3 1939.6,937.2 1941.3,937.2 1942.9,937.2 1944.5,937.2 1946.2,937.2 1947.8,937.1 1949.4,937.1 1951.1,937.1 1952.7,937.1 1954.3,937.0 1956.0,937.0 1957.6,937.0 1959.2,937.0 1960.8,936.9 1962.5,936.9 1964.1,936.9 1965.7,936.9 1967.4,936.9 1969.0,936.8 1970.6,936.8 1972.3,936.8 1973.9,936.8 1975.5,936.8 1977.1,936.7 1978.8,936.7 1980.4,936.7 1982.0,936.7 1983.7,936.7 1985.3,936.6 1986.9,936.6 1988.6,936.6 1990.2,936.6 1991.8,936.6 1993.5,936.5 1995.1,936.5 1996.7,936.5 1998.3,936.5 2000.0,936.5 2001.6,936.5 2003.2,936.4 2004.9,936.4 2006.5,936.4 2008.1,936.4 2009.8,936.4 2011.4,936.4 2012.2,936.3" stroke="#ff0000" stroke-width="3.9" stroke-dasharray="14.05 3.16 7.03 3.16"/>
<polyline class="cv" points="1197.8,964.3 1198.6,969.3 1199.4,971.1 1200.3,970.9 1201.1,969.7 1201.9,967.7 1202.7,965.5 1203.5,963.1 1204.3,960.7 1205.2,958.3 1206.0,956.1 1206.8,953.9 1207.6,951.9 1208.4,950.1 1209.2,948.4 1210.0,946.7 1210.9,945.3 1211.7,943.9 1212.5,942.6 1213.3,941.5 1214.1,940.4 1214.9,939.4 1215.7,938.5 1216.6,937.7 1217.4,936.9 1218.2,936.2 1219.0,935.6 1219.8,935.0 1220.6,934.5 1221.5,934.0 1222.3,933.6 1223.1,933.2 1223.9,932.9 1224.7,932.5 1225.5,932.3 1226.3,932.0 1227.2,931.8 1228.0,931.6 1228.8,931.4 1229.6,931.2 1230.4,931.1 1231.2,931.0 1232.1,930.9 1232.9,930.8 1233.7,930.7 1234.5,930.7 1235.3,930.7 1236.1,930.6 1236.9,930.6 1237.8,930.6 1238.6,930.6 1239.4,930.6 1240.2,930.6 1241.0,930.6 1241.8,930.7 1242.7,930.7 1243.5,930.7 1244.3,930.8 1245.1,930.8 1245.9,930.9 1246.7,931.0 1248.4,931.1 1250.0,931.2 1251.6,931.4 1253.2,931.5 1254.9,931.7 1256.5,931.8 1258.1,932.0 1259.8,932.2 1261.4,932.3 1263.0,932.5 1264.7,932.7 1266.3,932.8 1267.9,933.0 1269.6,933.2 1271.2,933.3 1272.8,933.5 1274.4,933.7 1276.1,933.8 1277.7,934.0 1279.3,934.1 1281.0,934.3 1282.6,934.4 1284.2,934.6 1285.9,934.7 1287.5,934.8 1289.1,935.0 1290.7,935.1 1292.4,935.2 1294.0,935.4 1295.6,935.5 1297.3,935.6 1298.9,935.7 1300.5,935.9 1302.2,936.0 1303.8,936.1 1305.4,936.2 1307.1,936.3 1308.7,936.4 1310.3,936.5 1311.9,936.6 1313.6,936.7 1315.2,936.8 1316.8,936.9 1318.5,937.0 1320.1,937.0 1321.7,937.1 1323.4,937.2 1325.0,937.3 1326.6,937.4 1328.2,937.4 1329.9,937.5 1331.5,937.6 1333.1,937.7 1334.8,937.7 1336.4,937.8 1338.0,937.9 1339.7,937.9 1341.3,938.0 1342.9,938.0 1344.6,938.1 1346.2,938.1 1347.8,938.2 1349.4,938.2 1351.1,938.3 1352.7,938.3 1354.3,938.4 1356.0,938.4 1357.6,938.5 1359.2,938.5 1360.9,938.6 1362.5,938.6 1364.1,938.6 1365.7,938.7 1367.4,938.7 1369.0,938.7 1370.6,938.8 1372.3,938.8 1373.9,938.8 1375.5,938.9 1377.2,938.9 1378.8,938.9 1380.4,938.9 1382.1,939.0 1383.7,939.0 1385.3,939.0 1386.9,939.0 1388.6,939.0 1390.2,939.1 1391.8,939.1 1393.5,939.1 1395.1,939.1 1396.7,939.1 1398.4,939.1 1400.0,939.1 1401.6,939.2 1403.2,939.2 1404.9,939.2 1406.5,939.2 1408.1,939.2 1409.8,939.2 1411.4,939.2 1413.0,939.2 1414.7,939.2 1416.3,939.2 1417.9,939.2 1419.5,939.2 1421.2,939.2 1422.8,939.2 1424.4,939.2 1426.1,939.2 1427.7,939.2 1429.3,939.2 1431.0,939.2 1432.6,939.2 1434.2,939.2 1435.9,939.2 1437.5,939.2 1439.1,939.2 1440.7,939.2 1442.4,939.2 1444.0,939.2 1445.6,939.2 1447.3,939.2 1448.9,939.2 1450.5,939.2 1452.2,939.2 1453.8,939.2 1455.4,939.2 1457.0,939.2 1458.7,939.2 1460.3,939.2 1461.9,939.1 1463.6,939.1 1465.2,939.1 1466.8,939.1 1468.5,939.1 1470.1,939.1 1471.7,939.1 1473.4,939.1 1475.0,939.1 1476.6,939.0 1478.2,939.0 1479.9,939.0 1481.5,939.0 1483.1,939.0 1484.8,939.0 1486.4,939.0 1488.0,939.0 1489.7,938.9 1491.3,938.9 1492.9,938.9 1494.5,938.9 1496.2,938.9 1497.8,938.9 1499.4,938.9 1501.1,938.8 1502.7,938.8 1504.3,938.8 1506.0,938.8 1507.6,938.8 1509.2,938.8 1510.9,938.7 1512.5,938.7 1514.1,938.7 1515.7,938.7 1517.4,938.7 1519.0,938.7 1520.6,938.7 1522.3,938.6 1523.9,938.6 1525.5,938.6 1527.2,938.6 1528.8,938.6 1530.4,938.5 1532.0,938.5 1533.7,938.5 1535.3,938.5 1536.9,938.5 1538.6,938.5 1540.2,938.4 1541.8,938.4 1543.5,938.4 1545.1,938.4 1546.7,938.4 1548.4,938.4 1550.0,938.3 1551.6,938.3 1553.2,938.3 1554.9,938.3 1556.5,938.3 1558.1,938.3 1559.8,938.2 1561.4,938.2 1563.0,938.2 1564.7,938.2 1566.3,938.2 1567.9,938.1 1569.5,938.1 1571.2,938.1 1572.8,938.1 1574.4,938.1 1576.1,938.1 1577.7,938.0 1579.3,938.0 1581.0,938.0 1582.6,938.0 1584.2,938.0 1585.9,938.0 1587.5,937.9 1589.1,937.9 1590.7,937.9 1592.4,937.9 1594.0,937.9 1595.6,937.8 1597.3,937.8 1598.9,937.8 1600.5,937.8 1602.2,937.8 1603.8,937.8 1605.4,937.7 1607.0,937.7 1608.7,937.7 1610.3,937.7 1611.9,937.7 1613.6,937.7 1615.2,937.6 1616.8,937.6 1618.5,937.6 1620.1,937.6 1621.7,937.6 1623.3,937.6 1625.0,937.5 1626.6,937.5 1628.2,937.5 1629.9,937.5 1631.5,937.5 1633.1,937.5 1634.8,937.4 1636.4,937.4 1638.0,937.4 1639.7,937.4 1641.3,937.4 1642.9,937.4 1644.5,937.3 1646.2,937.3 1647.8,937.3 1649.4,937.3 1651.1,937.3 1652.7,937.3 1654.3,937.3 1656.0,937.2 1657.6,937.2 1659.2,937.2 1660.8,937.2 1662.5,937.2 1664.1,937.2 1665.7,937.1 1667.4,937.1 1669.0,937.1 1670.6,937.1 1672.3,937.1 1673.9,937.1 1675.5,937.1 1677.2,937.0 1678.8,937.0 1680.4,937.0 1682.0,937.0 1683.7,937.0 1685.3,937.0 1686.9,937.0 1688.6,936.9 1690.2,936.9 1691.8,936.9 1693.5,936.9 1695.1,936.9 1696.7,936.9 1698.3,936.9 1700.0,936.9 1701.6,936.8 1703.2,936.8 1704.9,936.8 1706.5,936.8 1708.1,936.8 1709.8,936.8 1711.4,936.8 1713.0,936.7 1714.7,936.7 1716.3,936.7 1717.9,936.7 1719.5,936.7 1721.2,936.7 1722.8,936.7 1724.4,936.7 1726.1,936.7 1727.7,936.6 1729.3,936.6 1731.0,936.6 1732.6,936.6 1734.2,936.6 1735.8,936.6 1737.5,936.6 1739.1,936.6 1740.7,936.5 1742.4,936.5 1744.0,936.5 1745.6,936.5 1747.3,936.5 1748.9,936.5 1750.5,936.5 1752.2,936.5 1753.8,936.5 1755.4,936.4 1757.0,936.4 1758.7,936.4 1760.3,936.4 1761.9,936.4 1763.6,936.4 1765.2,936.4 1766.8,936.4 1768.5,936.4 1770.1,936.4 1771.7,936.3 1773.3,936.3 1775.0,936.3 1776.6,936.3 1778.2,936.3 1779.9,936.3 1781.5,936.3 1783.1,936.3 1784.8,936.3 1786.4,936.3 1788.0,936.2 1789.7,936.2 1791.3,936.2 1792.9,936.2 1794.5,936.2 1796.2,936.2 1797.8,936.2 1799.4,936.2 1801.1,936.2 1802.7,936.2 1804.3,936.2 1806.0,936.2 1807.6,936.1 1809.2,936.1 1810.8,936.1 1812.5,936.1 1814.1,936.1 1815.7,936.1 1817.4,936.1 1819.0,936.1 1820.6,936.1 1822.3,936.1 1823.9,936.1 1825.5,936.1 1827.1,936.0 1828.8,936.0 1830.4,936.0 1832.0,936.0 1833.7,936.0 1835.3,936.0 1836.9,936.0 1838.6,936.0 1840.2,936.0 1841.8,936.0 1843.5,936.0 1845.1,936.0 1846.7,936.0 1848.3,936.0 1850.0,935.9 1851.6,935.9 1853.2,935.9 1854.9,935.9 1856.5,935.9 1858.1,935.9 1859.8,935.9 1861.4,935.9 1863.0,935.9 1864.6,935.9 1866.3,935.9 1867.9,935.9 1869.5,935.9 1871.2,935.9 1872.8,935.9 1874.4,935.8 1876.1,935.8 1877.7,935.8 1879.3,935.8 1881.0,935.8 1882.6,935.8 1884.2,935.8 1885.8,935.8 1887.5,935.8 1889.1,935.8 1890.7,935.8 1892.4,935.8 1894.0,935.8 1895.6,935.8 1897.3,935.8 1898.9,935.8 1900.5,935.8 1902.1,935.7 1903.8,935.7 1905.4,935.7 1907.0,935.7 1908.7,935.7 1910.3,935.7 1911.9,935.7 1913.6,935.7 1915.2,935.7 1916.8,935.7 1918.5,935.7 1920.1,935.7 1921.7,935.7 1923.3,935.7 1925.0,935.7 1926.6,935.7 1928.2,935.7 1929.9,935.7 1931.5,935.7 1933.1,935.7 1934.8,935.7 1936.4,935.6 1938.0,935.6 1939.6,935.6 1941.3,935.6 1942.9,935.6 1944.5,935.6 1946.2,935.6 1947.8,935.6 1949.4,935.6 1951.1,935.6 1952.7,935.6 1954.3,935.6 1956.0,935.6 1957.6,935.6 1959.2,935.6 1960.8,935.6 1962.5,935.6 1964.1,935.6 1965.7,935.6 1967.4,935.6 1969.0,935.6 1970.6,935.6 1972.3,935.6 1973.9,935.6 1975.5,935.5 1977.1,935.5 1978.8,935.5 1980.4,935.5 1982.0,935.5 1983.7,935.5 1985.3,935.5 1986.9,935.5 1988.6,935.5 1990.2,935.5 1991.8,935.5 1993.5,935.5 1995.1,935.5 1996.7,935.5 1998.3,935.5 2000.0,935.5 2001.6,935.5 2003.2,935.5 2004.9,935.5 2006.5,935.5 2008.1,935.5 2009.8,935.5 2011.4,935.5 2012.2,935.5" stroke="#ff00ff" stroke-width="3.9"/>
</g>
<path class="cv" transform="scale(1.17 1)" d="M1023.8 1221.6L1025.9 1209.1L1028.0 1194.2L1030.0 1182.4L1032.1 1172.9L1034.2 1165.0L1036.3 1158.1L1038.4 1152.0L1040.5 1146.4L1042.6 1141.2L1044.7 1136.3L1046.8 1131.7L1048.9 1127.2L1050.9 1123.0L1053.0 1118.9L1055.1 1114.9L1057.2 1111.1L1059.3 1107.4L1061.4 1103.9L1063.5 1100.4L1065.6 1097.1L1067.7 1093.9L1069.8 1090.8L1071.8 1087.7L1073.9 1084.8L1076.0 1081.9L1078.1 1079.1L1080.2 1076.5L1082.3 1073.8L1084.4 1071.3L1086.5 1068.8L1088.6 1066.4L1090.7 1064.1L1092.8 1061.8L1094.8 1059.6L1096.9 1057.5L1099.0 1055.4L1101.1 1053.3L1103.2 1051.3L1105.3 1049.4L1107.4 1047.5L1109.5 1045.6L1111.6 1043.8L1113.7 1042.1L1115.7 1040.4L1117.8 1038.7L1119.9 1037.0L1122.0 1035.4L1124.1 1033.9L1126.2 1032.3L1128.3 1030.8L1130.4 1029.4L1132.5 1027.9L1134.6 1026.5L1136.6 1025.2L1138.7 1023.8L1140.8 1022.5L1142.9 1021.2L1145.0 1019.9L1147.1 1018.7L1149.2 1017.5L1151.3 1016.3L1153.4 1015.1L1155.5 1014.0L1157.6 1012.8L1159.6 1011.7L1161.7 1010.6L1163.8 1009.6L1165.9 1008.5L1168.0 1007.5L1170.1 1006.5L1172.2 1005.5L1174.3 1004.5L1176.4 1003.6L1178.5 1002.6L1180.5 1001.7L1182.6 1000.8L1184.7 999.9L1186.8 999.0L1188.9 998.1L1191.0 997.3L1193.1 996.5L1195.2 995.6L1197.3 994.8L1199.4 994.0L1201.4 993.2L1203.5 992.5L1205.6 991.7L1207.7 991.0L1209.8 990.2L1211.9 989.5L1214.0 988.8L1216.1 988.1L1218.2 987.4L1220.3 986.7L1222.3 986.0L1224.4 985.3L1226.5 984.7L1228.6 984.0L1230.7 983.4L1232.8 982.8L1234.9 982.2L1237.0 981.6L1239.1 980.9L1241.2 980.4L1243.3 979.8L1245.3 979.2L1247.4 978.6L1249.5 978.1L1251.6 977.5L1253.7 977.0L1255.8 976.4L1257.9 975.9L1260.0 975.4L1262.1 974.9L1264.2 974.4L1266.2 973.9L1268.3 973.4L1270.4 972.9L1272.5 972.4L1274.6 971.9L1276.7 971.5L1278.8 971.0L1280.9 970.5L1283.0 970.1L1285.1 969.6L1287.1 969.2L1289.2 968.8L1291.3 968.3L1293.4 967.9L1295.5 967.5L1297.6 967.1L1299.7 966.7L1301.8 966.3L1303.9 965.9L1306.0 965.5L1308.0 965.1L1310.1 964.7L1312.2 964.4L1314.3 964.0L1316.4 963.6L1318.5 963.3L1320.6 962.9L1322.7 962.6L1324.8 962.2L1326.9 961.9L1329.0 961.5L1331.0 961.2L1333.1 960.9L1335.2 960.6L1337.3 960.2L1339.4 959.9L1341.5 959.6L1343.6 959.3L1345.7 959.0L1347.8 958.7L1349.9 958.4L1351.9 958.1L1354.0 957.8L1356.1 957.5L1358.2 957.3L1360.3 957.0L1362.4 956.7L1364.5 956.4L1366.6 956.2L1368.7 955.9L1370.8 955.6L1372.8 955.4L1374.9 955.1L1377.0 954.9L1379.1 954.6L1381.2 954.4L1383.3 954.1L1385.4 953.9L1387.5 953.7L1389.6 953.4L1391.7 953.2L1393.7 953.0L1395.8 952.8L1397.9 952.5L1400.0 952.3L1402.1 952.1L1404.2 951.9L1406.3 951.7L1408.4 951.5L1410.5 951.3L1412.6 951.1L1414.7 950.9L1416.7 950.7L1418.8 950.5L1420.9 950.3L1423.0 950.1L1425.1 949.9L1427.2 949.7L1429.3 949.5L1431.4 949.4L1433.5 949.2L1435.6 949.0L1437.6 948.8L1439.7 948.7L1441.8 948.5L1443.9 948.3L1446.0 948.2L1448.1 948.0L1450.2 947.8L1452.3 947.7L1454.4 947.5L1456.5 947.4L1458.5 947.2L1460.6 947.1L1462.7 946.9L1464.8 946.8L1466.9 946.6L1469.0 946.5L1471.1 946.3L1473.2 946.2L1475.3 946.1L1477.4 945.9L1479.4 945.8L1481.5 945.7L1483.6 945.5L1485.7 945.4L1487.8 945.3L1489.9 945.1L1492.0 945.0L1494.1 944.9L1496.2 944.8L1498.3 944.6L1500.4 944.5L1502.4 944.4L1504.5 944.3L1506.6 944.2L1508.7 944.1L1510.8 944.0L1512.9 943.8L1515.0 943.7L1517.1 943.6L1519.2 943.5L1521.3 943.4L1523.3 943.3L1525.4 943.2L1527.5 943.1L1529.6 943.0L1531.7 942.9L1533.8 942.8L1535.9 942.7L1538.0 942.6L1540.1 942.5L1542.2 942.4L1544.2 942.4L1546.3 942.3L1548.4 942.2L1550.5 942.1L1552.6 942.0L1554.7 941.9L1556.8 941.8L1558.9 941.7L1561.0 941.7L1563.1 941.6L1565.2 941.5L1567.2 941.4L1569.3 941.3L1571.4 941.3L1573.5 941.2L1575.6 941.1L1577.7 941.0L1579.8 941.0L1581.9 940.9L1584.0 940.8L1586.1 940.7L1588.1 940.7L1590.2 940.6L1592.3 940.5L1594.4 940.5L1596.5 940.4L1598.6 940.3L1600.7 940.3L1602.8 940.2L1604.9 940.1L1607.0 940.1L1609.0 940.0L1611.1 940.0L1613.2 939.9L1615.3 939.8L1617.4 939.8L1619.5 939.7L1621.6 939.7L1623.7 939.6L1625.8 939.6L1627.9 939.5L1629.9 939.4L1632.0 939.4L1634.1 939.3L1636.2 939.3L1638.3 939.2L1640.4 939.2L1642.5 939.1L1644.6 939.1L1646.7 939.0L1648.8 939.0L1650.9 938.9L1652.9 938.9L1655.0 938.8L1657.1 938.8L1659.2 938.8L1661.3 938.7L1663.4 938.7L1665.5 938.6L1667.6 938.6L1669.7 938.5L1671.8 938.5L1673.8 938.5L1675.9 938.4L1678.0 938.4L1680.1 938.3L1682.2 938.3L1684.3 938.3L1686.4 938.2L1688.5 938.2L1690.6 938.1L1692.7 938.1L1694.7 938.1L1696.8 938.0L1698.9 938.0L1701.0 938.0L1703.1 937.9L1705.2 937.9L1707.3 937.9L1709.4 937.8L1711.5 937.8L1713.6 937.8L1715.6 937.7L1717.7 937.7L1719.8 937.7" stroke="#00ff00" stroke-width="4.3" stroke-linecap="round"/>
<g clip-path="url(#clip-d)">
<polyline class="cv" points="1197.8,792.8 1198.6,802.4 1199.4,805.0 1200.3,804.0 1201.1,800.9 1201.9,797.0 1202.7,792.7 1203.5,788.3 1204.3,784.0 1205.2,779.9 1206.0,776.1 1206.8,772.5 1207.6,769.2 1208.4,766.1 1209.2,763.3 1210.0,760.7 1210.9,758.3 1211.7,756.2 1212.5,754.2 1213.3,752.4 1214.1,750.9 1214.9,749.4 1215.7,748.1 1216.6,747.0 1217.4,746.0 1218.2,745.2 1219.0,744.4 1219.8,743.8 1220.6,743.3 1221.5,742.9 1222.3,742.6 1223.1,742.4 1223.9,742.2 1224.7,742.1 1225.5,742.2 1226.3,742.2 1227.2,742.4 1228.0,742.6 1228.8,742.8 1229.6,743.2 1230.4,743.5 1231.2,743.9 1232.1,744.4 1232.9,744.9 1233.7,745.4 1234.5,746.0 1235.3,746.6 1236.1,747.2 1236.9,747.8 1237.8,748.5 1238.6,749.2 1239.4,749.9 1240.2,750.7 1241.0,751.4 1241.8,752.2 1242.7,753.0 1243.5,753.8 1244.3,754.7 1245.1,755.5 1245.9,756.3 1246.7,757.2 1248.4,758.9 1250.0,760.7 1251.6,762.5 1253.2,764.3 1254.9,766.1 1256.5,767.9 1258.1,769.8 1259.8,771.6 1261.4,773.4 1263.0,775.2 1264.7,777.0 1266.3,778.8 1267.9,780.6 1269.6,782.4 1271.2,784.1 1272.8,785.9 1274.4,787.6 1276.1,789.3 1277.7,791.0 1279.3,792.7 1281.0,794.4 1282.6,796.0 1284.2,797.6 1285.9,799.2 1287.5,800.8 1289.1,802.4 1290.7,803.9 1292.4,805.4 1294.0,807.0 1295.6,808.4 1297.3,809.9 1298.9,811.4 1300.5,812.8 1302.2,814.2 1303.8,815.6 1305.4,817.0 1307.1,818.4 1308.7,819.7 1310.3,821.0 1311.9,822.4 1313.6,823.7 1315.2,824.9 1316.8,826.2 1318.5,827.4 1320.1,828.7 1321.7,829.9 1323.4,831.1 1325.0,832.3 1326.6,833.5 1328.2,834.6 1329.9,835.8 1331.5,836.9 1333.1,838.0 1334.8,839.1 1336.4,840.2 1338.0,841.3 1339.7,842.3 1341.3,843.4 1342.9,844.4 1344.6,845.4 1346.2,846.4 1347.8,847.4 1349.4,848.4 1351.1,849.4 1352.7,850.4 1354.3,851.3 1356.0,852.2 1357.6,853.2 1359.2,854.1 1360.9,855.0 1362.5,855.9 1364.1,856.8 1365.7,857.7 1367.4,858.5 1369.0,859.4 1370.6,860.2 1372.3,861.1 1373.9,861.9 1375.5,862.7 1377.2,863.5 1378.8,864.3 1380.4,865.1 1382.1,865.9 1383.7,866.6 1385.3,867.4 1386.9,868.1 1388.6,868.9 1390.2,869.6 1391.8,870.3 1393.5,871.1 1395.1,871.8 1396.7,872.5 1398.4,873.2 1400.0,873.8 1401.6,874.5 1403.2,875.2 1404.9,875.8 1406.5,876.5 1408.1,877.1 1409.8,877.8 1411.4,878.4 1413.0,879.0 1414.7,879.7 1416.3,880.3 1417.9,880.9 1419.5,881.5 1421.2,882.1 1422.8,882.6 1424.4,883.2 1426.1,883.8 1427.7,884.4 1429.3,884.9 1431.0,885.5 1432.6,886.0 1434.2,886.5 1435.9,887.1 1437.5,887.6 1439.1,888.1 1440.7,888.6 1442.4,889.1 1444.0,889.7 1445.6,890.1 1447.3,890.6 1448.9,891.1 1450.5,891.6 1452.2,892.1 1453.8,892.6 1455.4,893.0 1457.0,893.5 1458.7,893.9 1460.3,894.4 1461.9,894.8 1463.6,895.3 1465.2,895.7 1466.8,896.1 1468.5,896.6 1470.1,897.0 1471.7,897.4 1473.4,897.8 1475.0,898.2 1476.6,898.6 1478.2,899.0 1479.9,899.4 1481.5,899.8 1483.1,900.2 1484.8,900.6 1486.4,900.9 1488.0,901.3 1489.7,901.7 1491.3,902.0 1492.9,902.4 1494.5,902.7 1496.2,903.1 1497.8,903.4 1499.4,903.8 1501.1,904.1 1502.7,904.5 1504.3,904.8 1506.0,905.1 1507.6,905.4 1509.2,905.8 1510.9,906.1 1512.5,906.4 1514.1,906.7 1515.7,907.0 1517.4,907.3 1519.0,907.6 1520.6,907.9 1522.3,908.2 1523.9,908.5 1525.5,908.8 1527.2,909.1 1528.8,909.3 1530.4,909.6 1532.0,909.9 1533.7,910.2 1535.3,910.4 1536.9,910.7 1538.6,911.0 1540.2,911.2 1541.8,911.5 1543.5,911.7 1545.1,912.0 1546.7,912.2 1548.4,912.5 1550.0,912.7 1551.6,913.0 1553.2,913.2 1554.9,913.4 1556.5,913.7 1558.1,913.9 1559.8,914.1 1561.4,914.3 1563.0,914.6 1564.7,914.8 1566.3,915.0 1567.9,915.2 1569.5,915.4 1571.2,915.6 1572.8,915.8 1574.4,916.1 1576.1,916.3 1577.7,916.5 1579.3,916.7 1581.0,916.9 1582.6,917.0 1584.2,917.2 1585.9,917.4 1587.5,917.6 1589.1,917.8 1590.7,918.0 1592.4,918.2 1594.0,918.3 1595.6,918.5 1597.3,918.7 1598.9,918.9 1600.5,919.0 1602.2,919.2 1603.8,919.4 1605.4,919.5 1607.0,919.7 1608.7,919.9 1610.3,920.0 1611.9,920.2 1613.6,920.3 1615.2,920.5 1616.8,920.7 1618.5,920.8 1620.1,921.0 1621.7,921.1 1623.3,921.3 1625.0,921.4 1626.6,921.5 1628.2,921.7 1629.9,921.8 1631.5,922.0 1633.1,922.1 1634.8,922.2 1636.4,922.4 1638.0,922.5 1639.7,922.6 1641.3,922.8 1642.9,922.9 1644.5,923.0 1646.2,923.1 1647.8,923.3 1649.4,923.4 1651.1,923.5 1652.7,923.6 1654.3,923.7 1656.0,923.9 1657.6,924.0 1659.2,924.1 1660.8,924.2 1662.5,924.3 1664.1,924.4 1665.7,924.5 1667.4,924.7 1669.0,924.8 1670.6,924.9 1672.3,925.0 1673.9,925.1 1675.5,925.2 1677.2,925.3 1678.8,925.4 1680.4,925.5 1682.0,925.6 1683.7,925.7 1685.3,925.8 1686.9,925.9 1688.6,926.0 1690.2,926.0 1691.8,926.1 1693.5,926.2 1695.1,926.3 1696.7,926.4 1698.3,926.5 1700.0,926.6 1701.6,926.7 1703.2,926.8 1704.9,926.8 1706.5,926.9 1708.1,927.0 1709.8,927.1 1711.4,927.2 1713.0,927.2 1714.7,927.3 1716.3,927.4 1717.9,927.5 1719.5,927.6 1721.2,927.6 1722.8,927.7 1724.4,927.8 1726.1,927.8 1727.7,927.9 1729.3,928.0 1731.0,928.1 1732.6,928.1 1734.2,928.2 1735.8,928.3 1737.5,928.3 1739.1,928.4 1740.7,928.5 1742.4,928.5 1744.0,928.6 1745.6,928.7 1747.3,928.7 1748.9,928.8 1750.5,928.8 1752.2,928.9 1753.8,929.0 1755.4,929.0 1757.0,929.1 1758.7,929.1 1760.3,929.2 1761.9,929.3 1763.6,929.3 1765.2,929.4 1766.8,929.4 1768.5,929.5 1770.1,929.5 1771.7,929.6 1773.3,929.6 1775.0,929.7 1776.6,929.7 1778.2,929.8 1779.9,929.8 1781.5,929.9 1783.1,929.9 1784.8,930.0 1786.4,930.0 1788.0,930.1 1789.7,930.1 1791.3,930.2 1792.9,930.2 1794.5,930.3 1796.2,930.3 1797.8,930.4 1799.4,930.4 1801.1,930.4 1802.7,930.5 1804.3,930.5 1806.0,930.6 1807.6,930.6 1809.2,930.7 1810.8,930.7 1812.5,930.7 1814.1,930.8 1815.7,930.8 1817.4,930.9 1819.0,930.9 1820.6,930.9 1822.3,931.0 1823.9,931.0 1825.5,931.0 1827.1,931.1 1828.8,931.1 1830.4,931.1 1832.0,931.2 1833.7,931.2 1835.3,931.3 1836.9,931.3 1838.6,931.3 1840.2,931.4 1841.8,931.4 1843.5,931.4 1845.1,931.4 1846.7,931.5 1848.3,931.5 1850.0,931.5 1851.6,931.6 1853.2,931.6 1854.9,931.6 1856.5,931.7 1858.1,931.7 1859.8,931.7 1861.4,931.8 1863.0,931.8 1864.6,931.8 1866.3,931.8 1867.9,931.9 1869.5,931.9 1871.2,931.9 1872.8,931.9 1874.4,932.0 1876.1,932.0 1877.7,932.0 1879.3,932.0 1881.0,932.1 1882.6,932.1 1884.2,932.1 1885.8,932.1 1887.5,932.2 1889.1,932.2 1890.7,932.2 1892.4,932.2 1894.0,932.3 1895.6,932.3 1897.3,932.3 1898.9,932.3 1900.5,932.4 1902.1,932.4 1903.8,932.4 1905.4,932.4 1907.0,932.4 1908.7,932.5 1910.3,932.5 1911.9,932.5 1913.6,932.5 1915.2,932.5 1916.8,932.6 1918.5,932.6 1920.1,932.6 1921.7,932.6 1923.3,932.6 1925.0,932.7 1926.6,932.7 1928.2,932.7 1929.9,932.7 1931.5,932.7 1933.1,932.7 1934.8,932.8 1936.4,932.8 1938.0,932.8 1939.6,932.8 1941.3,932.8 1942.9,932.8 1944.5,932.9 1946.2,932.9 1947.8,932.9 1949.4,932.9 1951.1,932.9 1952.7,932.9 1954.3,933.0 1956.0,933.0 1957.6,933.0 1959.2,933.0 1960.8,933.0 1962.5,933.0 1964.1,933.0 1965.7,933.1 1967.4,933.1 1969.0,933.1 1970.6,933.1 1972.3,933.1 1973.9,933.1 1975.5,933.1 1977.1,933.1 1978.8,933.2 1980.4,933.2 1982.0,933.2 1983.7,933.2 1985.3,933.2 1986.9,933.2 1988.6,933.2 1990.2,933.2 1991.8,933.3 1993.5,933.3 1995.1,933.3 1996.7,933.3 1998.3,933.3 2000.0,933.3 2001.6,933.3 2003.2,933.3 2004.9,933.3 2006.5,933.4 2008.1,933.4 2009.8,933.4 2011.4,933.4 2012.2,933.4" stroke="#0000ff" stroke-width="4.8" stroke-dasharray="4.3 4.27"/>
</g>
<text class="tk" text-anchor="middle" x="1197.00" y="1251.40" textLength="13.85" lengthAdjust="spacingAndGlyphs">0</text>
<text class="tk" text-anchor="middle" x="1360.04" y="1251.40" textLength="27.70" lengthAdjust="spacingAndGlyphs">20</text>
<text class="tk" text-anchor="middle" x="1523.08" y="1251.40" textLength="27.70" lengthAdjust="spacingAndGlyphs">40</text>
<text class="tk" text-anchor="middle" x="1686.12" y="1251.40" textLength="27.70" lengthAdjust="spacingAndGlyphs">60</text>
<text class="tk" text-anchor="middle" x="1849.16" y="1251.40" textLength="27.70" lengthAdjust="spacingAndGlyphs">80</text>
<text class="tk" text-anchor="middle" x="2012.20" y="1251.40" textLength="41.54" lengthAdjust="spacingAndGlyphs">100</text>
<text class="tk" text-anchor="end" x="1187.20" y="1229.60" textLength="13.85" lengthAdjust="spacingAndGlyphs">0</text>
<text class="tk" text-anchor="end" x="1187.20" y="1122.40" textLength="13.85" lengthAdjust="spacingAndGlyphs">5</text>
<text class="tk" text-anchor="end" x="1187.20" y="1015.20" textLength="27.70" lengthAdjust="spacingAndGlyphs">10</text>
<text class="tk" text-anchor="end" x="1187.20" y="908.00" textLength="27.70" lengthAdjust="spacingAndGlyphs">15</text>
<text class="tk" text-anchor="end" x="1187.20" y="800.80" textLength="27.70" lengthAdjust="spacingAndGlyphs">20</text>
<text class="tk" text-anchor="end" x="1187.20" y="693.60" textLength="27.70" lengthAdjust="spacingAndGlyphs">25</text>
<text class="lb" text-anchor="middle" x="1604.60" y="1281.10" textLength="136.96" lengthAdjust="spacingAndGlyphs">Time(days)</text>
<text class="tt" text-anchor="middle" x="1604.60" y="678.50" textLength="33.48" lengthAdjust="spacingAndGlyphs">(d)</text>
<text class="lb" style="font-size:27.39px" text-anchor="middle" transform="translate(1145.00 953.60) rotate(-90)" textLength="36.65" lengthAdjust="spacingAndGlyphs">C(t)</text>
<rect x="1698.60" y="702.00" width="294.00" height="130.80" fill="#fff" stroke="#262626" stroke-width="1.5"/>
<path d="M1705.80 717.60H1781.00" stroke="#000000" stroke-width="3.9" stroke-dasharray="14.05 13.35"/>
<text class="lg" text-anchor="start" x="1786.60" y="724.10" textLength="178.25" lengthAdjust="spacingAndGlyphs">Y0=[10  0  0  0  0]</text>
<path d="M1705.80 742.50H1781.00" stroke="#ff0000" stroke-width="3.9" stroke-dasharray="14.05 3.16 7.03 3.16"/>
<text class="lg" text-anchor="start" x="1786.60" y="749.00" textLength="165.74" lengthAdjust="spacingAndGlyphs">Y0=[6  2  4  6  1]</text>
<path d="M1705.80 767.40H1781.00" stroke="#ff00ff" stroke-width="3.9"/>
<text class="lg" text-anchor="start" x="1786.60" y="773.90" textLength="184.52" lengthAdjust="spacingAndGlyphs">Y0=[13  4  8  12 2]</text>
<ellipse cx="1743.40" cy="792.30" rx="2.5" ry="2.1" fill="#00ff00"/>
<text class="lg" text-anchor="start" x="1786.60" y="798.80" textLength="178.26" lengthAdjust="spacingAndGlyphs">Y0=[15  6  12 0 3]</text>
<path d="M1705.80 817.20H1781.00" stroke="#0000ff" stroke-width="4.8" stroke-dasharray="4.3 4.27"/>
<text class="lg" text-anchor="start" x="1786.60" y="823.70" textLength="197.03" lengthAdjust="spacingAndGlyphs">Y0=[17  8  16 20  4]</text>
</g>
<g id="plot-e">
<clipPath id="clip-e"><rect x="77.00" y="1344.20" width="821.20" height="542.00"/></clipPath>
<path class="ax" d="M80.00 1347.20H895.20V1883.20H80.00ZM80.00 1883.20v-7.20M80.00 1347.20v7.20M243.04 1883.20v-7.20M243.04 1347.20v7.20M406.08 1883.20v-7.20M406.08 1347.20v7.20M569.12 1883.20v-7.20M569.12 1347.20v7.20M732.16 1883.20v-7.20M732.16 1347.20v7.20M895.20 1883.20v-7.20M895.20 1347.20v7.20M80.00 1883.20h8.80M895.20 1883.20h-8.80M80.00 1816.20h8.80M895.20 1816.20h-8.80M80.00 1749.20h8.80M895.20 1749.20h-8.80M80.00 1682.20h8.80M895.20 1682.20h-8.80M80.00 1615.20h8.80M895.20 1615.20h-8.80M80.00 1548.20h8.80M895.20 1548.20h-8.80M80.00 1481.20h8.80M895.20 1481.20h-8.80M80.00 1414.20h8.80M895.20 1414.20h-8.80M80.00 1347.20h8.80M895.20 1347.20h-8.80"/>
<g clip-path="url(#clip-e)">
<polyline class="cv" points="88.2,1883.2 96.3,1880.9 104.5,1879.7 112.6,1878.9 120.8,1878.1 128.9,1877.4 137.1,1876.8 145.2,1876.1 153.4,1875.6 161.5,1875.0 169.7,1874.5 177.8,1874.1 186.0,1873.6 194.1,1873.3 202.3,1872.9 210.4,1872.6 218.6,1872.3 226.7,1872.1 234.9,1871.8 243.0,1871.6 251.2,1871.4 259.3,1871.3 267.5,1871.1 275.6,1871.0 283.8,1870.9 292.0,1870.8 300.1,1870.7 308.3,1870.6 316.4,1870.5 324.6,1870.4 332.7,1870.4 340.9,1870.3 349.0,1870.2 357.2,1870.2 365.3,1870.2 373.5,1870.1 381.6,1870.1 389.8,1870.1 397.9,1870.0 406.1,1870.0 414.2,1870.0 422.4,1870.0 430.5,1869.9 438.7,1869.9 446.8,1869.9 455.0,1869.9 463.1,1869.9 471.3,1869.9 479.4,1869.9 487.6,1869.9 495.8,1869.9 503.9,1869.9 512.1,1869.9 520.2,1869.8 528.4,1869.8 536.5,1869.8 544.7,1869.8 552.8,1869.8 561.0,1869.8 569.1,1869.8 577.3,1869.8 585.4,1869.8 593.6,1869.8 601.7,1869.8 609.9,1869.8 618.0,1869.8 626.2,1869.8 634.3,1869.8 642.5,1869.8 650.6,1869.8 658.8,1869.8 666.9,1869.8 675.1,1869.8 683.2,1869.8 691.4,1869.8 699.6,1869.8 707.7,1869.8 715.9,1869.8 724.0,1869.8 732.2,1869.8 740.3,1869.8 748.5,1869.8 756.6,1869.8 764.8,1869.8 772.9,1869.8 781.1,1869.8 789.2,1869.8 797.4,1869.8 805.5,1869.8 813.7,1869.8 821.8,1869.8 830.0,1869.8 838.1,1869.8 846.3,1869.8 854.4,1869.8 862.6,1869.8 870.7,1869.8 878.9,1869.8 887.0,1869.8 895.2,1869.8" stroke="#000000" stroke-width="3.9" stroke-dasharray="14.05 13.35"/>
<polyline class="cv" points="88.2,1749.2 96.3,1771.3 104.5,1784.7 112.6,1794.6 120.8,1802.9 128.9,1810.2 137.1,1816.6 145.2,1822.4 153.4,1827.5 161.5,1832.0 169.7,1836.1 177.8,1839.7 186.0,1843.0 194.1,1845.9 202.3,1848.5 210.4,1850.8 218.6,1852.9 226.7,1854.7 234.9,1856.3 243.0,1857.8 251.2,1859.1 259.3,1860.3 267.5,1861.3 275.6,1862.3 283.8,1863.1 292.0,1863.8 300.1,1864.5 308.3,1865.1 316.4,1865.6 324.6,1866.1 332.7,1866.5 340.9,1866.8 349.0,1867.2 357.2,1867.5 365.3,1867.7 373.5,1868.0 381.6,1868.2 389.8,1868.4 397.9,1868.5 406.1,1868.7 414.2,1868.8 422.4,1868.9 430.5,1869.0 438.7,1869.1 446.8,1869.2 455.0,1869.3 463.1,1869.3 471.3,1869.4 479.4,1869.4 487.6,1869.5 495.8,1869.5 503.9,1869.5 512.1,1869.6 520.2,1869.6 528.4,1869.6 536.5,1869.6 544.7,1869.7 552.8,1869.7 561.0,1869.7 569.1,1869.7 577.3,1869.7 585.4,1869.7 593.6,1869.7 601.7,1869.7 609.9,1869.8 618.0,1869.8 626.2,1869.8 634.3,1869.8 642.5,1869.8 650.6,1869.8 658.8,1869.8 666.9,1869.8 675.1,1869.8 683.2,1869.8 691.4,1869.8 699.6,1869.8 707.7,1869.8 715.9,1869.8 724.0,1869.8 732.2,1869.8 740.3,1869.8 748.5,1869.8 756.6,1869.8 764.8,1869.8 772.9,1869.8 781.1,1869.8 789.2,1869.8 797.4,1869.8 805.5,1869.8 813.7,1869.8 821.8,1869.8 830.0,1869.8 838.1,1869.8 846.3,1869.8 854.4,1869.8 862.6,1869.8 870.7,1869.8 878.9,1869.8 887.0,1869.8 895.2,1869.8" stroke="#ff0000" stroke-width="3.9" stroke-dasharray="14.05 3.16 7.03 3.16"/>
<polyline class="cv" points="88.2,1615.2 96.3,1652.6 104.5,1681.7 112.6,1705.0 120.8,1724.2 128.9,1740.4 137.1,1754.3 145.2,1766.3 153.4,1776.8 161.5,1786.1 169.7,1794.3 177.8,1801.6 186.0,1808.2 194.1,1814.0 202.3,1819.3 210.4,1823.9 218.6,1828.2 226.7,1832.0 234.9,1835.4 243.0,1838.4 251.2,1841.2 259.3,1843.7 267.5,1845.9 275.6,1848.0 283.8,1849.8 292.0,1851.5 300.1,1853.0 308.3,1854.3 316.4,1855.6 324.6,1856.7 332.7,1857.7 340.9,1858.6 349.0,1859.5 357.2,1860.3 365.3,1861.0 373.5,1861.6 381.6,1862.2 389.8,1862.7 397.9,1863.2 406.1,1863.7 414.2,1864.1 422.4,1864.5 430.5,1864.8 438.7,1865.2 446.8,1865.5 455.0,1865.7 463.1,1866.0 471.3,1866.2 479.4,1866.4 487.6,1866.7 495.8,1866.8 503.9,1867.0 512.1,1867.2 520.2,1867.3 528.4,1867.5 536.5,1867.6 544.7,1867.7 552.8,1867.9 561.0,1868.0 569.1,1868.1 577.3,1868.2 585.4,1868.3 593.6,1868.3 601.7,1868.4 609.9,1868.5 618.0,1868.6 626.2,1868.6 634.3,1868.7 642.5,1868.7 650.6,1868.8 658.8,1868.9 666.9,1868.9 675.1,1868.9 683.2,1869.0 691.4,1869.0 699.6,1869.1 707.7,1869.1 715.9,1869.1 724.0,1869.2 732.2,1869.2 740.3,1869.2 748.5,1869.3 756.6,1869.3 764.8,1869.3 772.9,1869.3 781.1,1869.4 789.2,1869.4 797.4,1869.4 805.5,1869.4 813.7,1869.4 821.8,1869.5 830.0,1869.5 838.1,1869.5 846.3,1869.5 854.4,1869.5 862.6,1869.5 870.7,1869.6 878.9,1869.6 887.0,1869.6 895.2,1869.6" stroke="#ff00ff" stroke-width="3.9"/>
</g>
<path class="cv" transform="scale(1.17 1)" d="M75.3 1481.2h.01M82.3 1540.4h.01M89.3 1582.5h.01M96.2 1616.5h.01M103.2 1645.4h.01M110.2 1670.4h.01M117.1 1692.3h.01M124.1 1711.6h.01M131.1 1728.5h.01M138.1 1743.4h.01M145.0 1756.5h.01M152.0 1768.2h.01M159.0 1778.5h.01M165.9 1787.7h.01M172.9 1795.9h.01M179.9 1803.2h.01M186.8 1809.7h.01M193.8 1815.5h.01M200.8 1820.8h.01M207.7 1825.5h.01M214.7 1829.7h.01M221.7 1833.4h.01M228.6 1836.9h.01M235.6 1839.9h.01M242.6 1842.7h.01M249.5 1845.2h.01M256.5 1847.5h.01M263.5 1849.5h.01M270.4 1851.3h.01M277.4 1853.0h.01M284.4 1854.5h.01M291.3 1855.9h.01M298.3 1857.2h.01M305.3 1858.3h.01M312.2 1859.3h.01M319.2 1860.3h.01M326.2 1861.1h.01M333.1 1861.9h.01M340.1 1862.6h.01M347.1 1863.2h.01M354.0 1863.8h.01M361.0 1864.3h.01M368.0 1864.8h.01M374.9 1865.3h.01M381.9 1865.7h.01M388.9 1866.0h.01M395.8 1866.4h.01M402.8 1866.7h.01M409.8 1866.9h.01M416.8 1867.2h.01M423.7 1867.4h.01M430.7 1867.6h.01M437.7 1867.8h.01M444.6 1868.0h.01M451.6 1868.2h.01M458.6 1868.3h.01M465.5 1868.4h.01M472.5 1868.6h.01M479.5 1868.7h.01M486.4 1868.8h.01M493.4 1868.9h.01M500.4 1868.9h.01M507.3 1869.0h.01M514.3 1869.1h.01M521.3 1869.1h.01M528.2 1869.2h.01M535.2 1869.3h.01M542.2 1869.3h.01M549.1 1869.3h.01M556.1 1869.4h.01M563.1 1869.4h.01M570.0 1869.5h.01M577.0 1869.5h.01M584.0 1869.5h.01M590.9 1869.5h.01M597.9 1869.6h.01M604.9 1869.6h.01M611.8 1869.6h.01M618.8 1869.6h.01M625.8 1869.6h.01M632.7 1869.6h.01M639.7 1869.7h.01M646.7 1869.7h.01M653.6 1869.7h.01M660.6 1869.7h.01M667.6 1869.7h.01M674.6 1869.7h.01M681.5 1869.7h.01M688.5 1869.7h.01M695.5 1869.7h.01M702.4 1869.7h.01M709.4 1869.7h.01M716.4 1869.7h.01M723.3 1869.8h.01M730.3 1869.8h.01M737.3 1869.8h.01M744.2 1869.8h.01M751.2 1869.8h.01M758.2 1869.8h.01M765.1 1869.8h.01" stroke="#00ff00" stroke-width="4.3" stroke-linecap="round"/>
<g clip-path="url(#clip-e)">
<polyline class="cv" points="88.2,1347.2 96.3,1422.3 104.5,1480.6 112.6,1527.8 120.8,1567.1 128.9,1600.7 137.1,1629.8 145.2,1655.3 153.4,1677.8 161.5,1697.8 169.7,1715.5 177.8,1731.3 186.0,1745.5 194.1,1758.1 202.3,1769.4 210.4,1779.4 218.6,1788.5 226.7,1796.5 234.9,1803.8 243.0,1810.3 251.2,1816.1 259.3,1821.3 267.5,1826.0 275.6,1830.1 283.8,1833.9 292.0,1837.3 300.1,1840.3 308.3,1843.1 316.4,1845.5 324.6,1847.7 332.7,1849.7 340.9,1851.5 349.0,1853.1 357.2,1854.6 365.3,1855.9 373.5,1857.1 381.6,1858.2 389.8,1859.1 397.9,1860.0 406.1,1860.8 414.2,1861.6 422.4,1862.2 430.5,1862.8 438.7,1863.4 446.8,1863.9 455.0,1864.3 463.1,1864.7 471.3,1865.1 479.4,1865.4 487.6,1865.8 495.8,1866.0 503.9,1866.3 512.1,1866.5 520.2,1866.8 528.4,1867.0 536.5,1867.2 544.7,1867.3 552.8,1867.5 561.0,1867.6 569.1,1867.8 577.3,1867.9 585.4,1868.0 593.6,1868.1 601.7,1868.2 609.9,1868.3 618.0,1868.4 626.2,1868.5 634.3,1868.6 642.5,1868.6 650.6,1868.7 658.8,1868.8 666.9,1868.8 675.1,1868.9 683.2,1868.9 691.4,1869.0 699.6,1869.0 707.7,1869.1 715.9,1869.1 724.0,1869.1 732.2,1869.2 740.3,1869.2 748.5,1869.2 756.6,1869.3 764.8,1869.3 772.9,1869.3 781.1,1869.4 789.2,1869.4 797.4,1869.4 805.5,1869.4 813.7,1869.4 821.8,1869.5 830.0,1869.5 838.1,1869.5 846.3,1869.5 854.4,1869.5 862.6,1869.5 870.7,1869.6 878.9,1869.6 887.0,1869.6 895.2,1869.6" stroke="#0000ff" stroke-width="4.8" stroke-dasharray="4.3 4.27"/>
</g>
<text class="tk" text-anchor="middle" x="80.00" y="1912.90" textLength="13.85" lengthAdjust="spacingAndGlyphs">0</text>
<text class="tk" text-anchor="middle" x="243.04" y="1912.90" textLength="13.85" lengthAdjust="spacingAndGlyphs">2</text>
<text class="tk" text-anchor="middle" x="406.08" y="1912.90" textLength="13.85" lengthAdjust="spacingAndGlyphs">4</text>
<text class="tk" text-anchor="middle" x="569.12" y="1912.90" textLength="13.85" lengthAdjust="spacingAndGlyphs">6</text>
<text class="tk" text-anchor="middle" x="732.16" y="1912.90" textLength="13.85" lengthAdjust="spacingAndGlyphs">8</text>
<text class="tk" text-anchor="middle" x="895.20" y="1912.90" textLength="27.70" lengthAdjust="spacingAndGlyphs">10</text>
<text class="tk" text-anchor="end" x="70.20" y="1891.20" textLength="13.85" lengthAdjust="spacingAndGlyphs">0</text>
<text class="tk" text-anchor="end" x="70.20" y="1824.20" textLength="34.61" lengthAdjust="spacingAndGlyphs">0.5</text>
<text class="tk" text-anchor="end" x="70.20" y="1757.20" textLength="13.85" lengthAdjust="spacingAndGlyphs">1</text>
<text class="tk" text-anchor="end" x="70.20" y="1690.20" textLength="34.61" lengthAdjust="spacingAndGlyphs">1.5</text>
<text class="tk" text-anchor="end" x="70.20" y="1623.20" textLength="13.85" lengthAdjust="spacingAndGlyphs">2</text>
<text class="tk" text-anchor="end" x="70.20" y="1556.20" textLength="34.61" lengthAdjust="spacingAndGlyphs">2.5</text>
<text class="tk" text-anchor="end" x="70.20" y="1489.20" textLength="13.85" lengthAdjust="spacingAndGlyphs">3</text>
<text class="tk" text-anchor="end" x="70.20" y="1422.20" textLength="34.61" lengthAdjust="spacingAndGlyphs">3.5</text>
<text class="tk" text-anchor="end" x="70.20" y="1355.20" textLength="13.85" lengthAdjust="spacingAndGlyphs">4</text>
<text class="lb" text-anchor="middle" x="487.60" y="1942.70" textLength="136.96" lengthAdjust="spacingAndGlyphs">Time(days)</text>
<text class="tt" text-anchor="middle" x="487.60" y="1340.10" textLength="33.48" lengthAdjust="spacingAndGlyphs">(e)</text>
<text class="lb" style="font-size:27.39px" text-anchor="middle" transform="translate(20.10 1615.20) rotate(-90)" textLength="35.44" lengthAdjust="spacingAndGlyphs">P(t)</text>
<rect x="581.60" y="1363.60" width="294.00" height="130.80" fill="#fff" stroke="#262626" stroke-width="1.5"/>
<path d="M588.80 1379.20H664.00" stroke="#000000" stroke-width="3.9" stroke-dasharray="14.05 13.35"/>
<text class="lg" text-anchor="start" x="669.60" y="1385.70" textLength="178.25" lengthAdjust="spacingAndGlyphs">Y0=[10  0  0  0  0]</text>
<path d="M588.80 1404.10H664.00" stroke="#ff0000" stroke-width="3.9" stroke-dasharray="14.05 3.16 7.03 3.16"/>
<text class="lg" text-anchor="start" x="669.60" y="1410.60" textLength="165.74" lengthAdjust="spacingAndGlyphs">Y0=[6  2  4  6  1]</text>
<path d="M588.80 1429.00H664.00" stroke="#ff00ff" stroke-width="3.9"/>
<text class="lg" text-anchor="start" x="669.60" y="1435.50" textLength="184.52" lengthAdjust="spacingAndGlyphs">Y0=[13  4  8  12 2]</text>
<ellipse cx="626.40" cy="1453.90" rx="2.5" ry="2.1" fill="#00ff00"/>
<text class="lg" text-anchor="start" x="669.60" y="1460.40" textLength="178.26" lengthAdjust="spacingAndGlyphs">Y0=[15  6  12 0 3]</text>
<path d="M588.80 1478.80H664.00" stroke="#0000ff" stroke-width="4.8" stroke-dasharray="4.3 4.27"/>
<text class="lg" text-anchor="start" x="669.60" y="1485.30" textLength="197.03" lengthAdjust="spacingAndGlyphs">Y0=[17  8  16 20  4]</text>
</g>
</svg>
</body></html>
